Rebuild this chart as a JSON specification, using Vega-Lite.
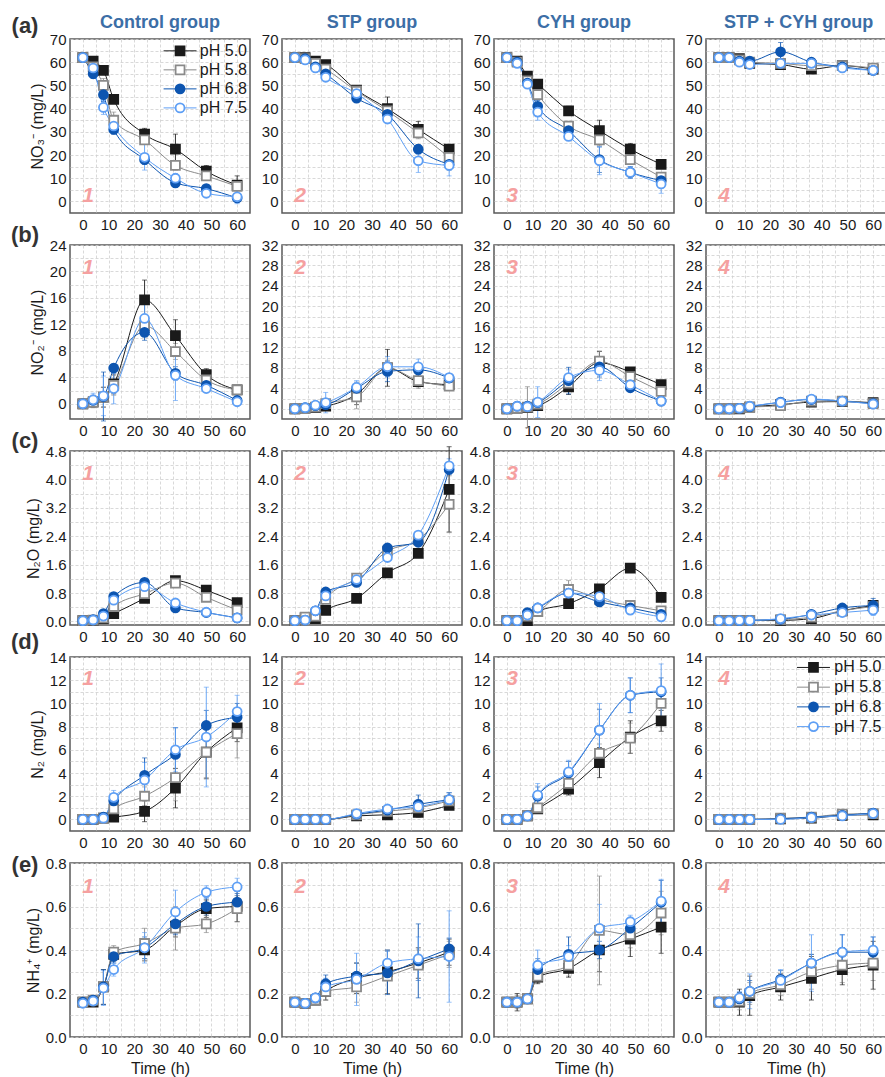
{
"$schema":"https://vega.github.io/schema/vega-lite/v6.json",
"background":"white",
"padding":{"left":10,"top":13,"right":0,"bottom":0},
"datasets":{"obs":[
{"m":"a","g":1,"s":"pH 5.0","t":0,"v":62,"e":1},{"m":"a","g":1,"s":"pH 5.0","t":4,"v":60.5,"e":1},{"m":"a","g":1,"s":"pH 5.0","t":8,"v":56.5,"e":1.5},{"m":"a","g":1,"s":"pH 5.0","t":12,"v":44,"e":1.5},{"m":"a","g":1,"s":"pH 5.0","t":24,"v":29,"e":2.5},{"m":"a","g":1,"s":"pH 5.0","t":36,"v":22.5,"e":6.5},{"m":"a","g":1,"s":"pH 5.0","t":48,"v":13,"e":2.5},{"m":"a","g":1,"s":"pH 5.0","t":60,"v":7,"e":4},
{"m":"a","g":1,"s":"pH 5.8","t":0,"v":62,"e":1},{"m":"a","g":1,"s":"pH 5.8","t":4,"v":58,"e":2},{"m":"a","g":1,"s":"pH 5.8","t":8,"v":50,"e":3},{"m":"a","g":1,"s":"pH 5.8","t":12,"v":35,"e":3.5},{"m":"a","g":1,"s":"pH 5.8","t":24,"v":26.5,"e":2},{"m":"a","g":1,"s":"pH 5.8","t":36,"v":15.5,"e":2},{"m":"a","g":1,"s":"pH 5.8","t":48,"v":11,"e":2},{"m":"a","g":1,"s":"pH 5.8","t":60,"v":6.5,"e":2},
{"m":"a","g":1,"s":"pH 6.8","t":0,"v":62,"e":1},{"m":"a","g":1,"s":"pH 6.8","t":4,"v":55,"e":2},{"m":"a","g":1,"s":"pH 6.8","t":8,"v":46,"e":3},{"m":"a","g":1,"s":"pH 6.8","t":12,"v":31,"e":2},{"m":"a","g":1,"s":"pH 6.8","t":24,"v":18,"e":2},{"m":"a","g":1,"s":"pH 6.8","t":36,"v":8,"e":2},{"m":"a","g":1,"s":"pH 6.8","t":48,"v":5.5,"e":1.5},{"m":"a","g":1,"s":"pH 6.8","t":60,"v":1.5,"e":1.5},
{"m":"a","g":1,"s":"pH 7.5","t":0,"v":62,"e":1},{"m":"a","g":1,"s":"pH 7.5","t":4,"v":57.5,"e":2},{"m":"a","g":1,"s":"pH 7.5","t":8,"v":40.5,"e":3},{"m":"a","g":1,"s":"pH 7.5","t":12,"v":32.5,"e":2},{"m":"a","g":1,"s":"pH 7.5","t":24,"v":19,"e":5.5},{"m":"a","g":1,"s":"pH 7.5","t":36,"v":10,"e":2},{"m":"a","g":1,"s":"pH 7.5","t":48,"v":3.5,"e":1.5},{"m":"a","g":1,"s":"pH 7.5","t":60,"v":2,"e":3},
{"m":"a","g":2,"s":"pH 5.0","t":0,"v":62,"e":1},{"m":"a","g":2,"s":"pH 5.0","t":4,"v":62,"e":1},{"m":"a","g":2,"s":"pH 5.0","t":8,"v":60.5,"e":1},{"m":"a","g":2,"s":"pH 5.0","t":12,"v":59,"e":1},{"m":"a","g":2,"s":"pH 5.0","t":24,"v":48,"e":1.5},{"m":"a","g":2,"s":"pH 5.0","t":36,"v":40,"e":5},{"m":"a","g":2,"s":"pH 5.0","t":48,"v":31,"e":3.5},{"m":"a","g":2,"s":"pH 5.0","t":60,"v":22.5,"e":2},
{"m":"a","g":2,"s":"pH 5.8","t":0,"v":62,"e":1},{"m":"a","g":2,"s":"pH 5.8","t":4,"v":61.5,"e":1},{"m":"a","g":2,"s":"pH 5.8","t":8,"v":59.5,"e":1},{"m":"a","g":2,"s":"pH 5.8","t":12,"v":57,"e":1.5},{"m":"a","g":2,"s":"pH 5.8","t":24,"v":47.5,"e":1.5},{"m":"a","g":2,"s":"pH 5.8","t":36,"v":39,"e":2},{"m":"a","g":2,"s":"pH 5.8","t":48,"v":29.5,"e":2.5},{"m":"a","g":2,"s":"pH 5.8","t":60,"v":19,"e":2},
{"m":"a","g":2,"s":"pH 6.8","t":0,"v":62,"e":1},{"m":"a","g":2,"s":"pH 6.8","t":4,"v":61.5,"e":1},{"m":"a","g":2,"s":"pH 6.8","t":8,"v":58,"e":1},{"m":"a","g":2,"s":"pH 6.8","t":12,"v":55,"e":1.5},{"m":"a","g":2,"s":"pH 6.8","t":24,"v":44.5,"e":1},{"m":"a","g":2,"s":"pH 6.8","t":36,"v":37.5,"e":1.5},{"m":"a","g":2,"s":"pH 6.8","t":48,"v":22.5,"e":2},{"m":"a","g":2,"s":"pH 6.8","t":60,"v":16,"e":2.5},
{"m":"a","g":2,"s":"pH 7.5","t":0,"v":62,"e":1},{"m":"a","g":2,"s":"pH 7.5","t":4,"v":61,"e":1},{"m":"a","g":2,"s":"pH 7.5","t":8,"v":57.5,"e":1.5},{"m":"a","g":2,"s":"pH 7.5","t":12,"v":53.5,"e":1.5},{"m":"a","g":2,"s":"pH 7.5","t":24,"v":46.5,"e":1.5},{"m":"a","g":2,"s":"pH 7.5","t":36,"v":35.5,"e":1.5},{"m":"a","g":2,"s":"pH 7.5","t":48,"v":17.5,"e":5},{"m":"a","g":2,"s":"pH 7.5","t":60,"v":15.5,"e":4.5},
{"m":"a","g":3,"s":"pH 5.0","t":0,"v":62,"e":1},{"m":"a","g":3,"s":"pH 5.0","t":4,"v":60.5,"e":1.5},{"m":"a","g":3,"s":"pH 5.0","t":8,"v":54,"e":1.5},{"m":"a","g":3,"s":"pH 5.0","t":12,"v":50.5,"e":1},{"m":"a","g":3,"s":"pH 5.0","t":24,"v":39,"e":2},{"m":"a","g":3,"s":"pH 5.0","t":36,"v":30.5,"e":4.5},{"m":"a","g":3,"s":"pH 5.0","t":48,"v":22.5,"e":2.5},{"m":"a","g":3,"s":"pH 5.0","t":60,"v":16,"e":1},
{"m":"a","g":3,"s":"pH 5.8","t":0,"v":62,"e":1},{"m":"a","g":3,"s":"pH 5.8","t":4,"v":60,"e":1},{"m":"a","g":3,"s":"pH 5.8","t":8,"v":52,"e":2},{"m":"a","g":3,"s":"pH 5.8","t":12,"v":46,"e":2},{"m":"a","g":3,"s":"pH 5.8","t":24,"v":32.5,"e":2},{"m":"a","g":3,"s":"pH 5.8","t":36,"v":26.5,"e":2.5},{"m":"a","g":3,"s":"pH 5.8","t":48,"v":18,"e":1.5},{"m":"a","g":3,"s":"pH 5.8","t":60,"v":10.5,"e":1.5},
{"m":"a","g":3,"s":"pH 6.8","t":0,"v":62,"e":1},{"m":"a","g":3,"s":"pH 6.8","t":4,"v":60,"e":1},{"m":"a","g":3,"s":"pH 6.8","t":8,"v":51,"e":2},{"m":"a","g":3,"s":"pH 6.8","t":12,"v":41,"e":2.5},{"m":"a","g":3,"s":"pH 6.8","t":24,"v":30.5,"e":2},{"m":"a","g":3,"s":"pH 6.8","t":36,"v":18,"e":5.5},{"m":"a","g":3,"s":"pH 6.8","t":48,"v":12.5,"e":2.5},{"m":"a","g":3,"s":"pH 6.8","t":60,"v":9,"e":2},
{"m":"a","g":3,"s":"pH 7.5","t":0,"v":62,"e":1},{"m":"a","g":3,"s":"pH 7.5","t":4,"v":59.5,"e":1},{"m":"a","g":3,"s":"pH 7.5","t":8,"v":50.5,"e":1.5},{"m":"a","g":3,"s":"pH 7.5","t":12,"v":38.5,"e":3.5},{"m":"a","g":3,"s":"pH 7.5","t":24,"v":28,"e":1.5},{"m":"a","g":3,"s":"pH 7.5","t":36,"v":17.5,"e":6},{"m":"a","g":3,"s":"pH 7.5","t":48,"v":12.5,"e":2.5},{"m":"a","g":3,"s":"pH 7.5","t":60,"v":7.5,"e":4},
{"m":"a","g":4,"s":"pH 5.0","t":0,"v":62,"e":1},{"m":"a","g":4,"s":"pH 5.0","t":4,"v":62,"e":1},{"m":"a","g":4,"s":"pH 5.0","t":8,"v":61.5,"e":1},{"m":"a","g":4,"s":"pH 5.0","t":12,"v":59.5,"e":1},{"m":"a","g":4,"s":"pH 5.0","t":24,"v":59,"e":1},{"m":"a","g":4,"s":"pH 5.0","t":36,"v":57,"e":1},{"m":"a","g":4,"s":"pH 5.0","t":48,"v":58.5,"e":1},{"m":"a","g":4,"s":"pH 5.0","t":60,"v":57,"e":1.5},
{"m":"a","g":4,"s":"pH 5.8","t":0,"v":62,"e":1},{"m":"a","g":4,"s":"pH 5.8","t":4,"v":62,"e":1},{"m":"a","g":4,"s":"pH 5.8","t":8,"v":61,"e":1},{"m":"a","g":4,"s":"pH 5.8","t":12,"v":60,"e":1},{"m":"a","g":4,"s":"pH 5.8","t":24,"v":59.5,"e":1},{"m":"a","g":4,"s":"pH 5.8","t":36,"v":58.5,"e":1},{"m":"a","g":4,"s":"pH 5.8","t":48,"v":58.5,"e":1},{"m":"a","g":4,"s":"pH 5.8","t":60,"v":57.5,"e":1.5},
{"m":"a","g":4,"s":"pH 6.8","t":0,"v":62,"e":1},{"m":"a","g":4,"s":"pH 6.8","t":4,"v":62,"e":1},{"m":"a","g":4,"s":"pH 6.8","t":8,"v":60.5,"e":1},{"m":"a","g":4,"s":"pH 6.8","t":12,"v":60.5,"e":1},{"m":"a","g":4,"s":"pH 6.8","t":24,"v":64.5,"e":4},{"m":"a","g":4,"s":"pH 6.8","t":36,"v":60,"e":1},{"m":"a","g":4,"s":"pH 6.8","t":48,"v":58,"e":1},{"m":"a","g":4,"s":"pH 6.8","t":60,"v":56.5,"e":2},
{"m":"a","g":4,"s":"pH 7.5","t":0,"v":62,"e":1},{"m":"a","g":4,"s":"pH 7.5","t":4,"v":62,"e":1},{"m":"a","g":4,"s":"pH 7.5","t":8,"v":60,"e":1},{"m":"a","g":4,"s":"pH 7.5","t":12,"v":59,"e":1},{"m":"a","g":4,"s":"pH 7.5","t":24,"v":59.5,"e":1},{"m":"a","g":4,"s":"pH 7.5","t":36,"v":59.5,"e":1},{"m":"a","g":4,"s":"pH 7.5","t":48,"v":57.5,"e":1},{"m":"a","g":4,"s":"pH 7.5","t":60,"v":56.5,"e":2},
{"m":"b","g":1,"s":"pH 5.0","t":0,"v":0,"e":0.3},{"m":"b","g":1,"s":"pH 5.0","t":4,"v":0.3,"e":0.8},{"m":"b","g":1,"s":"pH 5.0","t":8,"v":1,"e":1.5},{"m":"b","g":1,"s":"pH 5.0","t":12,"v":3,"e":1.5},{"m":"b","g":1,"s":"pH 5.0","t":24,"v":15.7,"e":3},{"m":"b","g":1,"s":"pH 5.0","t":36,"v":10.3,"e":2.4},{"m":"b","g":1,"s":"pH 5.0","t":48,"v":4.4,"e":0.9},{"m":"b","g":1,"s":"pH 5.0","t":60,"v":2.1,"e":0.6},
{"m":"b","g":1,"s":"pH 5.8","t":0,"v":0,"e":0.3},{"m":"b","g":1,"s":"pH 5.8","t":4,"v":0.2,"e":0.8},{"m":"b","g":1,"s":"pH 5.8","t":8,"v":1,"e":1.5},{"m":"b","g":1,"s":"pH 5.8","t":12,"v":2.8,"e":1.5},{"m":"b","g":1,"s":"pH 5.8","t":24,"v":11.8,"e":1.5},{"m":"b","g":1,"s":"pH 5.8","t":36,"v":7.9,"e":1.2},{"m":"b","g":1,"s":"pH 5.8","t":48,"v":3.6,"e":0.8},{"m":"b","g":1,"s":"pH 5.8","t":60,"v":2.1,"e":0.6},
{"m":"b","g":1,"s":"pH 6.8","t":0,"v":0,"e":0.3},{"m":"b","g":1,"s":"pH 6.8","t":4,"v":0.5,"e":0.8},{"m":"b","g":1,"s":"pH 6.8","t":8,"v":1.1,"e":3.7},{"m":"b","g":1,"s":"pH 6.8","t":12,"v":5.4,"e":0.6},{"m":"b","g":1,"s":"pH 6.8","t":24,"v":10.8,"e":1.2},{"m":"b","g":1,"s":"pH 6.8","t":36,"v":4.6,"e":1},{"m":"b","g":1,"s":"pH 6.8","t":48,"v":2.8,"e":0.6},{"m":"b","g":1,"s":"pH 6.8","t":60,"v":0.5,"e":0.5},
{"m":"b","g":1,"s":"pH 7.5","t":0,"v":0,"e":0.3},{"m":"b","g":1,"s":"pH 7.5","t":4,"v":0.6,"e":1},{"m":"b","g":1,"s":"pH 7.5","t":8,"v":1.2,"e":3},{"m":"b","g":1,"s":"pH 7.5","t":12,"v":2.3,"e":2.3},{"m":"b","g":1,"s":"pH 7.5","t":24,"v":12.9,"e":2.5},{"m":"b","g":1,"s":"pH 7.5","t":36,"v":4.3,"e":3.8},{"m":"b","g":1,"s":"pH 7.5","t":48,"v":2.3,"e":0.6},{"m":"b","g":1,"s":"pH 7.5","t":60,"v":0.3,"e":0.5},
{"m":"b","g":2,"s":"pH 5.0","t":0,"v":0,"e":0.2},{"m":"b","g":2,"s":"pH 5.0","t":4,"v":0.1,"e":0.3},{"m":"b","g":2,"s":"pH 5.0","t":8,"v":0.2,"e":0.4},{"m":"b","g":2,"s":"pH 5.0","t":12,"v":0.5,"e":0.6},{"m":"b","g":2,"s":"pH 5.0","t":24,"v":2.8,"e":2},{"m":"b","g":2,"s":"pH 5.0","t":36,"v":8,"e":3.6},{"m":"b","g":2,"s":"pH 5.0","t":48,"v":5.3,"e":1},{"m":"b","g":2,"s":"pH 5.0","t":60,"v":4.7,"e":0.6},
{"m":"b","g":2,"s":"pH 5.8","t":0,"v":0,"e":0.2},{"m":"b","g":2,"s":"pH 5.8","t":4,"v":0.1,"e":0.3},{"m":"b","g":2,"s":"pH 5.8","t":8,"v":0.3,"e":0.5},{"m":"b","g":2,"s":"pH 5.8","t":12,"v":1,"e":1},{"m":"b","g":2,"s":"pH 5.8","t":24,"v":2.3,"e":2.3},{"m":"b","g":2,"s":"pH 5.8","t":36,"v":8,"e":1.5},{"m":"b","g":2,"s":"pH 5.8","t":48,"v":5.5,"e":1.5},{"m":"b","g":2,"s":"pH 5.8","t":60,"v":4.4,"e":0.6},
{"m":"b","g":2,"s":"pH 6.8","t":0,"v":0,"e":0.2},{"m":"b","g":2,"s":"pH 6.8","t":4,"v":0.2,"e":0.3},{"m":"b","g":2,"s":"pH 6.8","t":8,"v":0.6,"e":0.5},{"m":"b","g":2,"s":"pH 6.8","t":12,"v":0.8,"e":1},{"m":"b","g":2,"s":"pH 6.8","t":24,"v":4,"e":1.2},{"m":"b","g":2,"s":"pH 6.8","t":36,"v":7.3,"e":2},{"m":"b","g":2,"s":"pH 6.8","t":48,"v":7.6,"e":1.2},{"m":"b","g":2,"s":"pH 6.8","t":60,"v":6,"e":0.6},
{"m":"b","g":2,"s":"pH 7.5","t":0,"v":0,"e":0.2},{"m":"b","g":2,"s":"pH 7.5","t":4,"v":0.2,"e":0.3},{"m":"b","g":2,"s":"pH 7.5","t":8,"v":0.7,"e":0.5},{"m":"b","g":2,"s":"pH 7.5","t":12,"v":1.2,"e":2},{"m":"b","g":2,"s":"pH 7.5","t":24,"v":4.2,"e":1.3},{"m":"b","g":2,"s":"pH 7.5","t":36,"v":8.2,"e":2},{"m":"b","g":2,"s":"pH 7.5","t":48,"v":8.2,"e":1.5},{"m":"b","g":2,"s":"pH 7.5","t":60,"v":6.1,"e":0.6},
{"m":"b","g":3,"s":"pH 5.0","t":0,"v":0,"e":0.2},{"m":"b","g":3,"s":"pH 5.0","t":4,"v":0.1,"e":0.3},{"m":"b","g":3,"s":"pH 5.0","t":8,"v":0.2,"e":0.5},{"m":"b","g":3,"s":"pH 5.0","t":12,"v":0.6,"e":0.5},{"m":"b","g":3,"s":"pH 5.0","t":24,"v":4.3,"e":1.5},{"m":"b","g":3,"s":"pH 5.0","t":36,"v":9,"e":2.2},{"m":"b","g":3,"s":"pH 5.0","t":48,"v":7.2,"e":0.6},{"m":"b","g":3,"s":"pH 5.0","t":60,"v":4.7,"e":0.5},
{"m":"b","g":3,"s":"pH 5.8","t":0,"v":0,"e":0.2},{"m":"b","g":3,"s":"pH 5.8","t":4,"v":0.1,"e":0.3},{"m":"b","g":3,"s":"pH 5.8","t":8,"v":0.3,"e":4},{"m":"b","g":3,"s":"pH 5.8","t":12,"v":0.9,"e":0.8},{"m":"b","g":3,"s":"pH 5.8","t":24,"v":5,"e":1.5},{"m":"b","g":3,"s":"pH 5.8","t":36,"v":9.3,"e":2},{"m":"b","g":3,"s":"pH 5.8","t":48,"v":6.3,"e":0.8},{"m":"b","g":3,"s":"pH 5.8","t":60,"v":3.4,"e":0.6},
{"m":"b","g":3,"s":"pH 6.8","t":0,"v":0,"e":0.2},{"m":"b","g":3,"s":"pH 6.8","t":4,"v":0.5,"e":0.5},{"m":"b","g":3,"s":"pH 6.8","t":8,"v":0.5,"e":0.5},{"m":"b","g":3,"s":"pH 6.8","t":12,"v":1.2,"e":0.8},{"m":"b","g":3,"s":"pH 6.8","t":24,"v":5.5,"e":2.6},{"m":"b","g":3,"s":"pH 6.8","t":36,"v":8.2,"e":2},{"m":"b","g":3,"s":"pH 6.8","t":48,"v":4.1,"e":0.6},{"m":"b","g":3,"s":"pH 6.8","t":60,"v":1.5,"e":0.5},
{"m":"b","g":3,"s":"pH 7.5","t":0,"v":0,"e":0.2},{"m":"b","g":3,"s":"pH 7.5","t":4,"v":0.5,"e":0.5},{"m":"b","g":3,"s":"pH 7.5","t":8,"v":0.4,"e":0.5},{"m":"b","g":3,"s":"pH 7.5","t":12,"v":1.3,"e":3},{"m":"b","g":3,"s":"pH 7.5","t":24,"v":6.1,"e":1.5},{"m":"b","g":3,"s":"pH 7.5","t":36,"v":7.5,"e":2},{"m":"b","g":3,"s":"pH 7.5","t":48,"v":4.7,"e":0.6},{"m":"b","g":3,"s":"pH 7.5","t":60,"v":1.5,"e":0.5},
{"m":"b","g":4,"s":"pH 5.0","t":0,"v":0,"e":0.1},{"m":"b","g":4,"s":"pH 5.0","t":4,"v":0,"e":0.1},{"m":"b","g":4,"s":"pH 5.0","t":8,"v":0,"e":0.2},{"m":"b","g":4,"s":"pH 5.0","t":12,"v":0.3,"e":0.3},{"m":"b","g":4,"s":"pH 5.0","t":24,"v":0.8,"e":0.5},{"m":"b","g":4,"s":"pH 5.0","t":36,"v":1.3,"e":0.5},{"m":"b","g":4,"s":"pH 5.0","t":48,"v":1.4,"e":0.4},{"m":"b","g":4,"s":"pH 5.0","t":60,"v":1.2,"e":0.4},
{"m":"b","g":4,"s":"pH 5.8","t":0,"v":0,"e":0.1},{"m":"b","g":4,"s":"pH 5.8","t":4,"v":0,"e":0.1},{"m":"b","g":4,"s":"pH 5.8","t":8,"v":0.1,"e":0.2},{"m":"b","g":4,"s":"pH 5.8","t":12,"v":0.3,"e":0.3},{"m":"b","g":4,"s":"pH 5.8","t":24,"v":0.6,"e":0.5},{"m":"b","g":4,"s":"pH 5.8","t":36,"v":1.5,"e":0.5},{"m":"b","g":4,"s":"pH 5.8","t":48,"v":1.5,"e":0.4},{"m":"b","g":4,"s":"pH 5.8","t":60,"v":1,"e":0.4},
{"m":"b","g":4,"s":"pH 6.8","t":0,"v":0,"e":0.1},{"m":"b","g":4,"s":"pH 6.8","t":4,"v":0,"e":0.1},{"m":"b","g":4,"s":"pH 6.8","t":8,"v":0.1,"e":0.2},{"m":"b","g":4,"s":"pH 6.8","t":12,"v":0.4,"e":0.3},{"m":"b","g":4,"s":"pH 6.8","t":24,"v":1.3,"e":0.5},{"m":"b","g":4,"s":"pH 6.8","t":36,"v":1.8,"e":0.5},{"m":"b","g":4,"s":"pH 6.8","t":48,"v":1.5,"e":0.4},{"m":"b","g":4,"s":"pH 6.8","t":60,"v":1,"e":0.4},
{"m":"b","g":4,"s":"pH 7.5","t":0,"v":0,"e":0.1},{"m":"b","g":4,"s":"pH 7.5","t":4,"v":0,"e":0.1},{"m":"b","g":4,"s":"pH 7.5","t":8,"v":0.1,"e":0.2},{"m":"b","g":4,"s":"pH 7.5","t":12,"v":0.5,"e":0.3},{"m":"b","g":4,"s":"pH 7.5","t":24,"v":1.2,"e":0.5},{"m":"b","g":4,"s":"pH 7.5","t":36,"v":1.9,"e":0.5},{"m":"b","g":4,"s":"pH 7.5","t":48,"v":1.5,"e":0.4},{"m":"b","g":4,"s":"pH 7.5","t":60,"v":0.9,"e":0.4},
{"m":"c","g":1,"s":"pH 5.0","t":0,"v":0.02,"e":0.01},{"m":"c","g":1,"s":"pH 5.0","t":4,"v":0.03,"e":0.02},{"m":"c","g":1,"s":"pH 5.0","t":8,"v":0.08,"e":0.05},{"m":"c","g":1,"s":"pH 5.0","t":12,"v":0.22,"e":0.05},{"m":"c","g":1,"s":"pH 5.0","t":24,"v":0.65,"e":0.08},{"m":"c","g":1,"s":"pH 5.0","t":36,"v":1.15,"e":0.08},{"m":"c","g":1,"s":"pH 5.0","t":48,"v":0.88,"e":0.06},{"m":"c","g":1,"s":"pH 5.0","t":60,"v":0.53,"e":0.05},
{"m":"c","g":1,"s":"pH 5.8","t":0,"v":0.02,"e":0.01},{"m":"c","g":1,"s":"pH 5.8","t":4,"v":0.04,"e":0.02},{"m":"c","g":1,"s":"pH 5.8","t":8,"v":0.1,"e":0.05},{"m":"c","g":1,"s":"pH 5.8","t":12,"v":0.42,"e":0.08},{"m":"c","g":1,"s":"pH 5.8","t":24,"v":0.78,"e":0.1},{"m":"c","g":1,"s":"pH 5.8","t":36,"v":1.08,"e":0.08},{"m":"c","g":1,"s":"pH 5.8","t":48,"v":0.68,"e":0.1},{"m":"c","g":1,"s":"pH 5.8","t":60,"v":0.32,"e":0.1},
{"m":"c","g":1,"s":"pH 6.8","t":0,"v":0.02,"e":0.01},{"m":"c","g":1,"s":"pH 6.8","t":4,"v":0.05,"e":0.02},{"m":"c","g":1,"s":"pH 6.8","t":8,"v":0.22,"e":0.05},{"m":"c","g":1,"s":"pH 6.8","t":12,"v":0.7,"e":0.08},{"m":"c","g":1,"s":"pH 6.8","t":24,"v":1.1,"e":0.08},{"m":"c","g":1,"s":"pH 6.8","t":36,"v":0.38,"e":0.05},{"m":"c","g":1,"s":"pH 6.8","t":48,"v":0.25,"e":0.05},{"m":"c","g":1,"s":"pH 6.8","t":60,"v":0.1,"e":0.05},
{"m":"c","g":1,"s":"pH 7.5","t":0,"v":0.02,"e":0.01},{"m":"c","g":1,"s":"pH 7.5","t":4,"v":0.04,"e":0.02},{"m":"c","g":1,"s":"pH 7.5","t":8,"v":0.15,"e":0.05},{"m":"c","g":1,"s":"pH 7.5","t":12,"v":0.6,"e":0.1},{"m":"c","g":1,"s":"pH 7.5","t":24,"v":0.98,"e":0.1},{"m":"c","g":1,"s":"pH 7.5","t":36,"v":0.52,"e":0.05},{"m":"c","g":1,"s":"pH 7.5","t":48,"v":0.26,"e":0.05},{"m":"c","g":1,"s":"pH 7.5","t":60,"v":0.1,"e":0.05},
{"m":"c","g":2,"s":"pH 5.0","t":0,"v":0.02,"e":0.01},{"m":"c","g":2,"s":"pH 5.0","t":4,"v":0.1,"e":0.03},{"m":"c","g":2,"s":"pH 5.0","t":8,"v":0.08,"e":0.05},{"m":"c","g":2,"s":"pH 5.0","t":12,"v":0.31,"e":0.05},{"m":"c","g":2,"s":"pH 5.0","t":24,"v":0.65,"e":0.12},{"m":"c","g":2,"s":"pH 5.0","t":36,"v":1.37,"e":0.06},{"m":"c","g":2,"s":"pH 5.0","t":48,"v":1.92,"e":0.06},{"m":"c","g":2,"s":"pH 5.0","t":60,"v":3.72,"e":1.2},
{"m":"c","g":2,"s":"pH 5.8","t":0,"v":0.02,"e":0.01},{"m":"c","g":2,"s":"pH 5.8","t":4,"v":0.12,"e":0.03},{"m":"c","g":2,"s":"pH 5.8","t":8,"v":0.15,"e":0.05},{"m":"c","g":2,"s":"pH 5.8","t":12,"v":0.62,"e":0.1},{"m":"c","g":2,"s":"pH 5.8","t":24,"v":1.22,"e":0.1},{"m":"c","g":2,"s":"pH 5.8","t":36,"v":1.98,"e":0.1},{"m":"c","g":2,"s":"pH 5.8","t":48,"v":2.3,"e":0.1},{"m":"c","g":2,"s":"pH 5.8","t":60,"v":3.3,"e":0.8},
{"m":"c","g":2,"s":"pH 6.8","t":0,"v":0.02,"e":0.01},{"m":"c","g":2,"s":"pH 6.8","t":4,"v":0.04,"e":0.02},{"m":"c","g":2,"s":"pH 6.8","t":8,"v":0.3,"e":0.05},{"m":"c","g":2,"s":"pH 6.8","t":12,"v":0.83,"e":0.08},{"m":"c","g":2,"s":"pH 6.8","t":24,"v":1.1,"e":0.1},{"m":"c","g":2,"s":"pH 6.8","t":36,"v":2.07,"e":0.1},{"m":"c","g":2,"s":"pH 6.8","t":48,"v":2.23,"e":0.1},{"m":"c","g":2,"s":"pH 6.8","t":60,"v":4.28,"e":0.15},
{"m":"c","g":2,"s":"pH 7.5","t":0,"v":0.02,"e":0.01},{"m":"c","g":2,"s":"pH 7.5","t":4,"v":0.04,"e":0.02},{"m":"c","g":2,"s":"pH 7.5","t":8,"v":0.3,"e":0.05},{"m":"c","g":2,"s":"pH 7.5","t":12,"v":0.72,"e":0.1},{"m":"c","g":2,"s":"pH 7.5","t":24,"v":1.18,"e":0.1},{"m":"c","g":2,"s":"pH 7.5","t":36,"v":1.8,"e":0.1},{"m":"c","g":2,"s":"pH 7.5","t":48,"v":2.43,"e":0.1},{"m":"c","g":2,"s":"pH 7.5","t":60,"v":4.38,"e":0.2},
{"m":"c","g":3,"s":"pH 5.0","t":0,"v":0.02,"e":0.01},{"m":"c","g":3,"s":"pH 5.0","t":4,"v":0.02,"e":0.01},{"m":"c","g":3,"s":"pH 5.0","t":8,"v":0.02,"e":0.02},{"m":"c","g":3,"s":"pH 5.0","t":12,"v":0.28,"e":0.04},{"m":"c","g":3,"s":"pH 5.0","t":24,"v":0.5,"e":0.05},{"m":"c","g":3,"s":"pH 5.0","t":36,"v":0.92,"e":0.05},{"m":"c","g":3,"s":"pH 5.0","t":48,"v":1.5,"e":0.05},{"m":"c","g":3,"s":"pH 5.0","t":60,"v":0.68,"e":0.05},
{"m":"c","g":3,"s":"pH 5.8","t":0,"v":0.02,"e":0.01},{"m":"c","g":3,"s":"pH 5.8","t":4,"v":0.02,"e":0.01},{"m":"c","g":3,"s":"pH 5.8","t":8,"v":0.15,"e":0.03},{"m":"c","g":3,"s":"pH 5.8","t":12,"v":0.28,"e":0.05},{"m":"c","g":3,"s":"pH 5.8","t":24,"v":0.9,"e":0.25},{"m":"c","g":3,"s":"pH 5.8","t":36,"v":0.62,"e":0.05},{"m":"c","g":3,"s":"pH 5.8","t":48,"v":0.45,"e":0.05},{"m":"c","g":3,"s":"pH 5.8","t":60,"v":0.3,"e":0.05},
{"m":"c","g":3,"s":"pH 6.8","t":0,"v":0.02,"e":0.01},{"m":"c","g":3,"s":"pH 6.8","t":4,"v":0.02,"e":0.01},{"m":"c","g":3,"s":"pH 6.8","t":8,"v":0.25,"e":0.05},{"m":"c","g":3,"s":"pH 6.8","t":12,"v":0.38,"e":0.05},{"m":"c","g":3,"s":"pH 6.8","t":24,"v":0.8,"e":0.1},{"m":"c","g":3,"s":"pH 6.8","t":36,"v":0.55,"e":0.05},{"m":"c","g":3,"s":"pH 6.8","t":48,"v":0.38,"e":0.05},{"m":"c","g":3,"s":"pH 6.8","t":60,"v":0.2,"e":0.05},
{"m":"c","g":3,"s":"pH 7.5","t":0,"v":0.02,"e":0.01},{"m":"c","g":3,"s":"pH 7.5","t":4,"v":0.02,"e":0.01},{"m":"c","g":3,"s":"pH 7.5","t":8,"v":0.18,"e":0.05},{"m":"c","g":3,"s":"pH 7.5","t":12,"v":0.38,"e":0.05},{"m":"c","g":3,"s":"pH 7.5","t":24,"v":0.8,"e":0.1},{"m":"c","g":3,"s":"pH 7.5","t":36,"v":0.7,"e":0.1},{"m":"c","g":3,"s":"pH 7.5","t":48,"v":0.32,"e":0.1},{"m":"c","g":3,"s":"pH 7.5","t":60,"v":0.13,"e":0.05},
{"m":"c","g":4,"s":"pH 5.0","t":0,"v":0.02,"e":0.01},{"m":"c","g":4,"s":"pH 5.0","t":4,"v":0.02,"e":0.01},{"m":"c","g":4,"s":"pH 5.0","t":8,"v":0.02,"e":0.01},{"m":"c","g":4,"s":"pH 5.0","t":12,"v":0.03,"e":0.01},{"m":"c","g":4,"s":"pH 5.0","t":24,"v":0.03,"e":0.02},{"m":"c","g":4,"s":"pH 5.0","t":36,"v":0.08,"e":0.03},{"m":"c","g":4,"s":"pH 5.0","t":48,"v":0.3,"e":0.05},{"m":"c","g":4,"s":"pH 5.0","t":60,"v":0.45,"e":0.1},
{"m":"c","g":4,"s":"pH 5.8","t":0,"v":0.02,"e":0.01},{"m":"c","g":4,"s":"pH 5.8","t":4,"v":0.02,"e":0.01},{"m":"c","g":4,"s":"pH 5.8","t":8,"v":0.02,"e":0.01},{"m":"c","g":4,"s":"pH 5.8","t":12,"v":0.03,"e":0.01},{"m":"c","g":4,"s":"pH 5.8","t":24,"v":0.05,"e":0.02},{"m":"c","g":4,"s":"pH 5.8","t":36,"v":0.12,"e":0.03},{"m":"c","g":4,"s":"pH 5.8","t":48,"v":0.3,"e":0.05},{"m":"c","g":4,"s":"pH 5.8","t":60,"v":0.42,"e":0.1},
{"m":"c","g":4,"s":"pH 6.8","t":0,"v":0.02,"e":0.01},{"m":"c","g":4,"s":"pH 6.8","t":4,"v":0.02,"e":0.01},{"m":"c","g":4,"s":"pH 6.8","t":8,"v":0.02,"e":0.01},{"m":"c","g":4,"s":"pH 6.8","t":12,"v":0.03,"e":0.01},{"m":"c","g":4,"s":"pH 6.8","t":24,"v":0.06,"e":0.02},{"m":"c","g":4,"s":"pH 6.8","t":36,"v":0.2,"e":0.05},{"m":"c","g":4,"s":"pH 6.8","t":48,"v":0.38,"e":0.05},{"m":"c","g":4,"s":"pH 6.8","t":60,"v":0.45,"e":0.2},
{"m":"c","g":4,"s":"pH 7.5","t":0,"v":0.02,"e":0.01},{"m":"c","g":4,"s":"pH 7.5","t":4,"v":0.02,"e":0.01},{"m":"c","g":4,"s":"pH 7.5","t":8,"v":0.03,"e":0.01},{"m":"c","g":4,"s":"pH 7.5","t":12,"v":0.03,"e":0.01},{"m":"c","g":4,"s":"pH 7.5","t":24,"v":0.08,"e":0.03},{"m":"c","g":4,"s":"pH 7.5","t":36,"v":0.18,"e":0.12},{"m":"c","g":4,"s":"pH 7.5","t":48,"v":0.25,"e":0.05},{"m":"c","g":4,"s":"pH 7.5","t":60,"v":0.32,"e":0.15},
{"m":"d","g":1,"s":"pH 5.0","t":0,"v":0,"e":0.05},{"m":"d","g":1,"s":"pH 5.0","t":4,"v":0,"e":0.05},{"m":"d","g":1,"s":"pH 5.0","t":8,"v":0.1,"e":0.1},{"m":"d","g":1,"s":"pH 5.0","t":12,"v":0.2,"e":0.3},{"m":"d","g":1,"s":"pH 5.0","t":24,"v":0.7,"e":0.9},{"m":"d","g":1,"s":"pH 5.0","t":36,"v":2.7,"e":1.7},{"m":"d","g":1,"s":"pH 5.0","t":48,"v":5.8,"e":2.3},{"m":"d","g":1,"s":"pH 5.0","t":60,"v":7.9,"e":1.2},
{"m":"d","g":1,"s":"pH 5.8","t":0,"v":0,"e":0.05},{"m":"d","g":1,"s":"pH 5.8","t":4,"v":0,"e":0.05},{"m":"d","g":1,"s":"pH 5.8","t":8,"v":0.1,"e":0.1},{"m":"d","g":1,"s":"pH 5.8","t":12,"v":0.9,"e":0.5},{"m":"d","g":1,"s":"pH 5.8","t":24,"v":2,"e":0.8},{"m":"d","g":1,"s":"pH 5.8","t":36,"v":3.6,"e":2},{"m":"d","g":1,"s":"pH 5.8","t":48,"v":5.8,"e":2.2},{"m":"d","g":1,"s":"pH 5.8","t":60,"v":7.4,"e":2.1},
{"m":"d","g":1,"s":"pH 6.8","t":0,"v":0,"e":0.05},{"m":"d","g":1,"s":"pH 6.8","t":4,"v":0,"e":0.05},{"m":"d","g":1,"s":"pH 6.8","t":8,"v":0.2,"e":0.2},{"m":"d","g":1,"s":"pH 6.8","t":12,"v":1.6,"e":0.5},{"m":"d","g":1,"s":"pH 6.8","t":24,"v":3.8,"e":1.5},{"m":"d","g":1,"s":"pH 6.8","t":36,"v":5.6,"e":2.3},{"m":"d","g":1,"s":"pH 6.8","t":48,"v":8.1,"e":1.3},{"m":"d","g":1,"s":"pH 6.8","t":60,"v":8.8,"e":1.2},
{"m":"d","g":1,"s":"pH 7.5","t":0,"v":0,"e":0.05},{"m":"d","g":1,"s":"pH 7.5","t":4,"v":0,"e":0.05},{"m":"d","g":1,"s":"pH 7.5","t":8,"v":0.1,"e":0.2},{"m":"d","g":1,"s":"pH 7.5","t":12,"v":1.9,"e":0.6},{"m":"d","g":1,"s":"pH 7.5","t":24,"v":3.4,"e":1.5},{"m":"d","g":1,"s":"pH 7.5","t":36,"v":6,"e":1.9},{"m":"d","g":1,"s":"pH 7.5","t":48,"v":7.1,"e":4.3},{"m":"d","g":1,"s":"pH 7.5","t":60,"v":9.3,"e":1.4},
{"m":"d","g":2,"s":"pH 5.0","t":0,"v":0,"e":0.02},{"m":"d","g":2,"s":"pH 5.0","t":4,"v":0,"e":0.02},{"m":"d","g":2,"s":"pH 5.0","t":8,"v":0,"e":0.02},{"m":"d","g":2,"s":"pH 5.0","t":12,"v":0,"e":0.02},{"m":"d","g":2,"s":"pH 5.0","t":24,"v":0.3,"e":0.2},{"m":"d","g":2,"s":"pH 5.0","t":36,"v":0.4,"e":0.2},{"m":"d","g":2,"s":"pH 5.0","t":48,"v":0.6,"e":0.4},{"m":"d","g":2,"s":"pH 5.0","t":60,"v":1.2,"e":0.3},
{"m":"d","g":2,"s":"pH 5.8","t":0,"v":0,"e":0.02},{"m":"d","g":2,"s":"pH 5.8","t":4,"v":0,"e":0.02},{"m":"d","g":2,"s":"pH 5.8","t":8,"v":0,"e":0.02},{"m":"d","g":2,"s":"pH 5.8","t":12,"v":0,"e":0.02},{"m":"d","g":2,"s":"pH 5.8","t":24,"v":0.4,"e":0.3},{"m":"d","g":2,"s":"pH 5.8","t":36,"v":0.7,"e":0.3},{"m":"d","g":2,"s":"pH 5.8","t":48,"v":1,"e":0.5},{"m":"d","g":2,"s":"pH 5.8","t":60,"v":1.6,"e":0.7},
{"m":"d","g":2,"s":"pH 6.8","t":0,"v":0,"e":0.02},{"m":"d","g":2,"s":"pH 6.8","t":4,"v":0,"e":0.02},{"m":"d","g":2,"s":"pH 6.8","t":8,"v":0,"e":0.02},{"m":"d","g":2,"s":"pH 6.8","t":12,"v":0,"e":0.02},{"m":"d","g":2,"s":"pH 6.8","t":24,"v":0.45,"e":0.3},{"m":"d","g":2,"s":"pH 6.8","t":36,"v":0.8,"e":0.3},{"m":"d","g":2,"s":"pH 6.8","t":48,"v":1.3,"e":0.8},{"m":"d","g":2,"s":"pH 6.8","t":60,"v":1.7,"e":0.6},
{"m":"d","g":2,"s":"pH 7.5","t":0,"v":0,"e":0.02},{"m":"d","g":2,"s":"pH 7.5","t":4,"v":0,"e":0.02},{"m":"d","g":2,"s":"pH 7.5","t":8,"v":0,"e":0.02},{"m":"d","g":2,"s":"pH 7.5","t":12,"v":0,"e":0.02},{"m":"d","g":2,"s":"pH 7.5","t":24,"v":0.5,"e":0.3},{"m":"d","g":2,"s":"pH 7.5","t":36,"v":0.9,"e":0.3},{"m":"d","g":2,"s":"pH 7.5","t":48,"v":1.1,"e":0.6},{"m":"d","g":2,"s":"pH 7.5","t":60,"v":1.7,"e":0.6},
{"m":"d","g":3,"s":"pH 5.0","t":0,"v":0,"e":0.05},{"m":"d","g":3,"s":"pH 5.0","t":4,"v":0,"e":0.05},{"m":"d","g":3,"s":"pH 5.0","t":8,"v":0.3,"e":0.1},{"m":"d","g":3,"s":"pH 5.0","t":12,"v":0.9,"e":0.3},{"m":"d","g":3,"s":"pH 5.0","t":24,"v":2.6,"e":0.5},{"m":"d","g":3,"s":"pH 5.0","t":36,"v":4.9,"e":1.3},{"m":"d","g":3,"s":"pH 5.0","t":48,"v":7.1,"e":1.4},{"m":"d","g":3,"s":"pH 5.0","t":60,"v":8.5,"e":0.9},
{"m":"d","g":3,"s":"pH 5.8","t":0,"v":0,"e":0.05},{"m":"d","g":3,"s":"pH 5.8","t":4,"v":0,"e":0.05},{"m":"d","g":3,"s":"pH 5.8","t":8,"v":0.3,"e":0.1},{"m":"d","g":3,"s":"pH 5.8","t":12,"v":1,"e":0.3},{"m":"d","g":3,"s":"pH 5.8","t":24,"v":3.1,"e":0.8},{"m":"d","g":3,"s":"pH 5.8","t":36,"v":5.7,"e":0.8},{"m":"d","g":3,"s":"pH 5.8","t":48,"v":7,"e":1.3},{"m":"d","g":3,"s":"pH 5.8","t":60,"v":10,"e":1.3},
{"m":"d","g":3,"s":"pH 6.8","t":0,"v":0,"e":0.05},{"m":"d","g":3,"s":"pH 6.8","t":4,"v":0,"e":0.05},{"m":"d","g":3,"s":"pH 6.8","t":8,"v":0.3,"e":0.1},{"m":"d","g":3,"s":"pH 6.8","t":12,"v":2,"e":0.8},{"m":"d","g":3,"s":"pH 6.8","t":24,"v":4,"e":1},{"m":"d","g":3,"s":"pH 6.8","t":36,"v":7.7,"e":1.8},{"m":"d","g":3,"s":"pH 6.8","t":48,"v":10.7,"e":1.5},{"m":"d","g":3,"s":"pH 6.8","t":60,"v":11,"e":1.2},
{"m":"d","g":3,"s":"pH 7.5","t":0,"v":0,"e":0.05},{"m":"d","g":3,"s":"pH 7.5","t":4,"v":0,"e":0.05},{"m":"d","g":3,"s":"pH 7.5","t":8,"v":0.3,"e":0.1},{"m":"d","g":3,"s":"pH 7.5","t":12,"v":2.1,"e":1},{"m":"d","g":3,"s":"pH 7.5","t":24,"v":4.1,"e":1},{"m":"d","g":3,"s":"pH 7.5","t":36,"v":7.7,"e":2.3},{"m":"d","g":3,"s":"pH 7.5","t":48,"v":10.7,"e":1.5},{"m":"d","g":3,"s":"pH 7.5","t":60,"v":11.1,"e":2.3},
{"m":"d","g":4,"s":"pH 5.0","t":0,"v":0,"e":0.02},{"m":"d","g":4,"s":"pH 5.0","t":4,"v":0,"e":0.02},{"m":"d","g":4,"s":"pH 5.0","t":8,"v":0,"e":0.02},{"m":"d","g":4,"s":"pH 5.0","t":12,"v":0,"e":0.02},{"m":"d","g":4,"s":"pH 5.0","t":24,"v":0.05,"e":0.2},{"m":"d","g":4,"s":"pH 5.0","t":36,"v":0.1,"e":0.2},{"m":"d","g":4,"s":"pH 5.0","t":48,"v":0.35,"e":0.2},{"m":"d","g":4,"s":"pH 5.0","t":60,"v":0.4,"e":0.3},
{"m":"d","g":4,"s":"pH 5.8","t":0,"v":0,"e":0.02},{"m":"d","g":4,"s":"pH 5.8","t":4,"v":0,"e":0.02},{"m":"d","g":4,"s":"pH 5.8","t":8,"v":0,"e":0.02},{"m":"d","g":4,"s":"pH 5.8","t":12,"v":0,"e":0.02},{"m":"d","g":4,"s":"pH 5.8","t":24,"v":0.1,"e":0.2},{"m":"d","g":4,"s":"pH 5.8","t":36,"v":0.2,"e":0.2},{"m":"d","g":4,"s":"pH 5.8","t":48,"v":0.45,"e":0.2},{"m":"d","g":4,"s":"pH 5.8","t":60,"v":0.5,"e":0.3},
{"m":"d","g":4,"s":"pH 6.8","t":0,"v":0,"e":0.02},{"m":"d","g":4,"s":"pH 6.8","t":4,"v":0,"e":0.02},{"m":"d","g":4,"s":"pH 6.8","t":8,"v":0,"e":0.02},{"m":"d","g":4,"s":"pH 6.8","t":12,"v":0,"e":0.02},{"m":"d","g":4,"s":"pH 6.8","t":24,"v":0.05,"e":0.2},{"m":"d","g":4,"s":"pH 6.8","t":36,"v":0.2,"e":0.2},{"m":"d","g":4,"s":"pH 6.8","t":48,"v":0.35,"e":0.2},{"m":"d","g":4,"s":"pH 6.8","t":60,"v":0.55,"e":0.3},
{"m":"d","g":4,"s":"pH 7.5","t":0,"v":0,"e":0.02},{"m":"d","g":4,"s":"pH 7.5","t":4,"v":0,"e":0.02},{"m":"d","g":4,"s":"pH 7.5","t":8,"v":0,"e":0.02},{"m":"d","g":4,"s":"pH 7.5","t":12,"v":0,"e":0.02},{"m":"d","g":4,"s":"pH 7.5","t":24,"v":0,"e":0.2},{"m":"d","g":4,"s":"pH 7.5","t":36,"v":0.15,"e":0.2},{"m":"d","g":4,"s":"pH 7.5","t":48,"v":0.3,"e":0.2},{"m":"d","g":4,"s":"pH 7.5","t":60,"v":0.5,"e":0.3},
{"m":"e","g":1,"s":"pH 5.0","t":0,"v":0.16,"e":0.01},{"m":"e","g":1,"s":"pH 5.0","t":4,"v":0.16,"e":0.02},{"m":"e","g":1,"s":"pH 5.0","t":8,"v":0.23,"e":0.08},{"m":"e","g":1,"s":"pH 5.0","t":12,"v":0.38,"e":0.03},{"m":"e","g":1,"s":"pH 5.0","t":24,"v":0.4,"e":0.05},{"m":"e","g":1,"s":"pH 5.0","t":36,"v":0.51,"e":0.05},{"m":"e","g":1,"s":"pH 5.0","t":48,"v":0.59,"e":0.04},{"m":"e","g":1,"s":"pH 5.0","t":60,"v":0.6,"e":0.07},
{"m":"e","g":1,"s":"pH 5.8","t":0,"v":0.16,"e":0.01},{"m":"e","g":1,"s":"pH 5.8","t":4,"v":0.17,"e":0.02},{"m":"e","g":1,"s":"pH 5.8","t":8,"v":0.23,"e":0.08},{"m":"e","g":1,"s":"pH 5.8","t":12,"v":0.39,"e":0.03},{"m":"e","g":1,"s":"pH 5.8","t":24,"v":0.43,"e":0.07},{"m":"e","g":1,"s":"pH 5.8","t":36,"v":0.5,"e":0.1},{"m":"e","g":1,"s":"pH 5.8","t":48,"v":0.52,"e":0.04},{"m":"e","g":1,"s":"pH 5.8","t":60,"v":0.59,"e":0.06},
{"m":"e","g":1,"s":"pH 6.8","t":0,"v":0.16,"e":0.01},{"m":"e","g":1,"s":"pH 6.8","t":4,"v":0.17,"e":0.02},{"m":"e","g":1,"s":"pH 6.8","t":8,"v":0.23,"e":0.08},{"m":"e","g":1,"s":"pH 6.8","t":12,"v":0.37,"e":0.03},{"m":"e","g":1,"s":"pH 6.8","t":24,"v":0.41,"e":0.05},{"m":"e","g":1,"s":"pH 6.8","t":36,"v":0.52,"e":0.05},{"m":"e","g":1,"s":"pH 6.8","t":48,"v":0.6,"e":0.04},{"m":"e","g":1,"s":"pH 6.8","t":60,"v":0.62,"e":0.04},
{"m":"e","g":1,"s":"pH 7.5","t":0,"v":0.155,"e":0.01},{"m":"e","g":1,"s":"pH 7.5","t":4,"v":0.165,"e":0.02},{"m":"e","g":1,"s":"pH 7.5","t":8,"v":0.225,"e":0.08},{"m":"e","g":1,"s":"pH 7.5","t":12,"v":0.31,"e":0.03},{"m":"e","g":1,"s":"pH 7.5","t":24,"v":0.41,"e":0.07},{"m":"e","g":1,"s":"pH 7.5","t":36,"v":0.575,"e":0.1},{"m":"e","g":1,"s":"pH 7.5","t":48,"v":0.665,"e":0.03},{"m":"e","g":1,"s":"pH 7.5","t":60,"v":0.69,"e":0.04},
{"m":"e","g":2,"s":"pH 5.0","t":0,"v":0.16,"e":0.01},{"m":"e","g":2,"s":"pH 5.0","t":4,"v":0.155,"e":0.01},{"m":"e","g":2,"s":"pH 5.0","t":8,"v":0.17,"e":0.02},{"m":"e","g":2,"s":"pH 5.0","t":12,"v":0.21,"e":0.04},{"m":"e","g":2,"s":"pH 5.0","t":24,"v":0.27,"e":0.07},{"m":"e","g":2,"s":"pH 5.0","t":36,"v":0.3,"e":0.1},{"m":"e","g":2,"s":"pH 5.0","t":48,"v":0.34,"e":0.07},{"m":"e","g":2,"s":"pH 5.0","t":60,"v":0.39,"e":0.06},
{"m":"e","g":2,"s":"pH 5.8","t":0,"v":0.16,"e":0.01},{"m":"e","g":2,"s":"pH 5.8","t":4,"v":0.155,"e":0.01},{"m":"e","g":2,"s":"pH 5.8","t":8,"v":0.17,"e":0.02},{"m":"e","g":2,"s":"pH 5.8","t":12,"v":0.21,"e":0.04},{"m":"e","g":2,"s":"pH 5.8","t":24,"v":0.23,"e":0.07},{"m":"e","g":2,"s":"pH 5.8","t":36,"v":0.28,"e":0.08},{"m":"e","g":2,"s":"pH 5.8","t":48,"v":0.33,"e":0.07},{"m":"e","g":2,"s":"pH 5.8","t":60,"v":0.38,"e":0.06},
{"m":"e","g":2,"s":"pH 6.8","t":0,"v":0.16,"e":0.01},{"m":"e","g":2,"s":"pH 6.8","t":4,"v":0.155,"e":0.01},{"m":"e","g":2,"s":"pH 6.8","t":8,"v":0.18,"e":0.02},{"m":"e","g":2,"s":"pH 6.8","t":12,"v":0.245,"e":0.04},{"m":"e","g":2,"s":"pH 6.8","t":24,"v":0.28,"e":0.06},{"m":"e","g":2,"s":"pH 6.8","t":36,"v":0.295,"e":0.1},{"m":"e","g":2,"s":"pH 6.8","t":48,"v":0.35,"e":0.17},{"m":"e","g":2,"s":"pH 6.8","t":60,"v":0.405,"e":0.05},
{"m":"e","g":2,"s":"pH 7.5","t":0,"v":0.16,"e":0.01},{"m":"e","g":2,"s":"pH 7.5","t":4,"v":0.155,"e":0.01},{"m":"e","g":2,"s":"pH 7.5","t":8,"v":0.18,"e":0.02},{"m":"e","g":2,"s":"pH 7.5","t":12,"v":0.23,"e":0.04},{"m":"e","g":2,"s":"pH 7.5","t":24,"v":0.265,"e":0.12},{"m":"e","g":2,"s":"pH 7.5","t":36,"v":0.34,"e":0.06},{"m":"e","g":2,"s":"pH 7.5","t":48,"v":0.36,"e":0.1},{"m":"e","g":2,"s":"pH 7.5","t":60,"v":0.37,"e":0.21},
{"m":"e","g":3,"s":"pH 5.0","t":0,"v":0.16,"e":0.01},{"m":"e","g":3,"s":"pH 5.0","t":4,"v":0.16,"e":0.04},{"m":"e","g":3,"s":"pH 5.0","t":8,"v":0.175,"e":0.01},{"m":"e","g":3,"s":"pH 5.0","t":12,"v":0.275,"e":0.03},{"m":"e","g":3,"s":"pH 5.0","t":24,"v":0.315,"e":0.04},{"m":"e","g":3,"s":"pH 5.0","t":36,"v":0.4,"e":0.1},{"m":"e","g":3,"s":"pH 5.0","t":48,"v":0.45,"e":0.08},{"m":"e","g":3,"s":"pH 5.0","t":60,"v":0.505,"e":0.12},
{"m":"e","g":3,"s":"pH 5.8","t":0,"v":0.16,"e":0.01},{"m":"e","g":3,"s":"pH 5.8","t":4,"v":0.16,"e":0.03},{"m":"e","g":3,"s":"pH 5.8","t":8,"v":0.175,"e":0.01},{"m":"e","g":3,"s":"pH 5.8","t":12,"v":0.28,"e":0.03},{"m":"e","g":3,"s":"pH 5.8","t":24,"v":0.33,"e":0.05},{"m":"e","g":3,"s":"pH 5.8","t":36,"v":0.49,"e":0.25},{"m":"e","g":3,"s":"pH 5.8","t":48,"v":0.47,"e":0.06},{"m":"e","g":3,"s":"pH 5.8","t":60,"v":0.57,"e":0.1},
{"m":"e","g":3,"s":"pH 6.8","t":0,"v":0.16,"e":0.01},{"m":"e","g":3,"s":"pH 6.8","t":4,"v":0.16,"e":0.02},{"m":"e","g":3,"s":"pH 6.8","t":8,"v":0.175,"e":0.01},{"m":"e","g":3,"s":"pH 6.8","t":12,"v":0.31,"e":0.05},{"m":"e","g":3,"s":"pH 6.8","t":24,"v":0.38,"e":0.08},{"m":"e","g":3,"s":"pH 6.8","t":36,"v":0.4,"e":0.04},{"m":"e","g":3,"s":"pH 6.8","t":48,"v":0.5,"e":0.05},{"m":"e","g":3,"s":"pH 6.8","t":60,"v":0.62,"e":0.1},
{"m":"e","g":3,"s":"pH 7.5","t":0,"v":0.16,"e":0.01},{"m":"e","g":3,"s":"pH 7.5","t":4,"v":0.16,"e":0.02},{"m":"e","g":3,"s":"pH 7.5","t":8,"v":0.175,"e":0.01},{"m":"e","g":3,"s":"pH 7.5","t":12,"v":0.33,"e":0.07},{"m":"e","g":3,"s":"pH 7.5","t":24,"v":0.37,"e":0.05},{"m":"e","g":3,"s":"pH 7.5","t":36,"v":0.5,"e":0.11},{"m":"e","g":3,"s":"pH 7.5","t":48,"v":0.53,"e":0.03},{"m":"e","g":3,"s":"pH 7.5","t":60,"v":0.625,"e":0.1},
{"m":"e","g":4,"s":"pH 5.0","t":0,"v":0.16,"e":0.01},{"m":"e","g":4,"s":"pH 5.0","t":4,"v":0.16,"e":0.01},{"m":"e","g":4,"s":"pH 5.0","t":8,"v":0.16,"e":0.06},{"m":"e","g":4,"s":"pH 5.0","t":12,"v":0.19,"e":0.09},{"m":"e","g":4,"s":"pH 5.0","t":24,"v":0.23,"e":0.06},{"m":"e","g":4,"s":"pH 5.0","t":36,"v":0.27,"e":0.1},{"m":"e","g":4,"s":"pH 5.0","t":48,"v":0.31,"e":0.07},{"m":"e","g":4,"s":"pH 5.0","t":60,"v":0.33,"e":0.11},
{"m":"e","g":4,"s":"pH 5.8","t":0,"v":0.16,"e":0.01},{"m":"e","g":4,"s":"pH 5.8","t":4,"v":0.16,"e":0.01},{"m":"e","g":4,"s":"pH 5.8","t":8,"v":0.165,"e":0.04},{"m":"e","g":4,"s":"pH 5.8","t":12,"v":0.2,"e":0.05},{"m":"e","g":4,"s":"pH 5.8","t":24,"v":0.24,"e":0.05},{"m":"e","g":4,"s":"pH 5.8","t":36,"v":0.3,"e":0.08},{"m":"e","g":4,"s":"pH 5.8","t":48,"v":0.33,"e":0.08},{"m":"e","g":4,"s":"pH 5.8","t":60,"v":0.34,"e":0.08},
{"m":"e","g":4,"s":"pH 6.8","t":0,"v":0.16,"e":0.01},{"m":"e","g":4,"s":"pH 6.8","t":4,"v":0.16,"e":0.01},{"m":"e","g":4,"s":"pH 6.8","t":8,"v":0.175,"e":0.03},{"m":"e","g":4,"s":"pH 6.8","t":12,"v":0.21,"e":0.05},{"m":"e","g":4,"s":"pH 6.8","t":24,"v":0.265,"e":0.04},{"m":"e","g":4,"s":"pH 6.8","t":36,"v":0.34,"e":0.04},{"m":"e","g":4,"s":"pH 6.8","t":48,"v":0.39,"e":0.08},{"m":"e","g":4,"s":"pH 6.8","t":60,"v":0.39,"e":0.07},
{"m":"e","g":4,"s":"pH 7.5","t":0,"v":0.16,"e":0.01},{"m":"e","g":4,"s":"pH 7.5","t":4,"v":0.16,"e":0.01},{"m":"e","g":4,"s":"pH 7.5","t":8,"v":0.18,"e":0.03},{"m":"e","g":4,"s":"pH 7.5","t":12,"v":0.21,"e":0.08},{"m":"e","g":4,"s":"pH 7.5","t":24,"v":0.26,"e":0.05},{"m":"e","g":4,"s":"pH 7.5","t":36,"v":0.34,"e":0.13},{"m":"e","g":4,"s":"pH 7.5","t":48,"v":0.39,"e":0.08},{"m":"e","g":4,"s":"pH 7.5","t":60,"v":0.4,"e":0.06}
]},
"data":{"name":"obs"},
"columns":4,
"spacing":{"row":32,"column":32},
"bounds":"flush",
"concat":[
{"width":180,"height":174,"transform":[{"filter":"datum.m=='a'&&datum.g==1"}],
"encoding":{"x":{"field":"t","type":"quantitative","scale":{"domain":[-5,65],"nice":false,"zero":false},"axis":{"values":[0,5,10,15,20,25,30,35,40,45,50,55,60],"labelExpr":"datum.value%10==0?datum.label:''","title":null}},
"y":{"field":"v","type":"quantitative","scale":{"domain":[-5,70],"nice":false,"zero":false},"axis":{"values":[0,5,10,15,20,25,30,35,40,45,50,55,60,65,70],"labelExpr":"datum.value%10==0?datum.label:''","title":"NO₃⁻ (mg/L)"}}},
"layer":[
{"mark":{"type":"line","interpolate":"monotone","strokeWidth":1},"encoding":{"color":{"field":"s","type":"nominal"}}},
{"mark":{"type":"errorbar","ticks":true,"thickness":0.9},"encoding":{"yError":{"field":"e"},"color":{"field":"s","type":"nominal"}}},
{"mark":{"type":"point","size":80,"strokeWidth":1.8,"opacity":1},"encoding":{"shape":{"field":"s","type":"nominal"},"stroke":{"field":"s","type":"nominal"},"fill":{"field":"s","type":"nominal","scale":{"range":["#1a1a1a","#ffffff","#0d55b0","#ffffff"]}}}},
{"data":{"values":[{"t":31.4,"t2":44.2,"v":64.9,"s":"pH 5.0"},{"t":31.4,"t2":44.2,"v":56.7,"s":"pH 5.8"},{"t":31.4,"t2":44.2,"v":48.5,"s":"pH 6.8"},{"t":31.4,"t2":44.2,"v":40.3,"s":"pH 7.5"}]},"mark":{"type":"rule","strokeWidth":1},"encoding":{"x2":{"field":"t2"},"color":{"field":"s","type":"nominal"}}},
{"data":{"values":[{"t":37.8,"v":64.9,"s":"pH 5.0"},{"t":37.8,"v":56.7,"s":"pH 5.8"},{"t":37.8,"v":48.5,"s":"pH 6.8"},{"t":37.8,"v":40.3,"s":"pH 7.5"}]},"mark":{"type":"point","size":80,"strokeWidth":1.8,"opacity":1},"encoding":{"shape":{"field":"s","type":"nominal"},"stroke":{"field":"s","type":"nominal"},"fill":{"field":"s","type":"nominal","scale":{"range":["#1a1a1a","#ffffff","#0d55b0","#ffffff"]}}}},
{"data":{"values":[{"t":45.5,"v":64.9,"s":"pH 5.0"},{"t":45.5,"v":56.7,"s":"pH 5.8"},{"t":45.5,"v":48.5,"s":"pH 6.8"},{"t":45.5,"v":40.3,"s":"pH 7.5"}]},"mark":{"type":"text","align":"left","baseline":"middle","fontSize":16,"color":"#1a1a1a"},"encoding":{"text":{"field":"s"}}},
{"data":{"values":[{"t":2,"v":2.3,"n":"1"}]},"mark":{"type":"text","fontSize":21,"fontWeight":"bold","fontStyle":"italic","color":"#f5a0a0","align":"center","baseline":"middle"},"encoding":{"text":{"field":"n"}}},
{"data":{"values":[{"t":30,"v":76.9,"n":"Control group"}]},"mark":{"type":"text","fontSize":18,"fontWeight":"bold","color":"#3c6ea6","align":"center","baseline":"middle"},"encoding":{"text":{"field":"n"}}},
{"data":{"values":[{"t":-22.5,"v":75.6,"n":"(a)"}]},"mark":{"type":"text","fontSize":22,"fontWeight":"bold","color":"#333333","align":"center","baseline":"middle"},"encoding":{"text":{"field":"n"}}}
]},
{"width":180,"height":174,"transform":[{"filter":"datum.m=='a'&&datum.g==2"}],
"encoding":{"x":{"field":"t","type":"quantitative","scale":{"domain":[-5,65],"nice":false,"zero":false},"axis":{"values":[0,5,10,15,20,25,30,35,40,45,50,55,60],"labelExpr":"datum.value%10==0?datum.label:''","title":null}},
"y":{"field":"v","type":"quantitative","scale":{"domain":[-5,70],"nice":false,"zero":false},"axis":{"values":[0,5,10,15,20,25,30,35,40,45,50,55,60,65,70],"labelExpr":"datum.value%10==0?datum.label:''","title":null}}},
"layer":[
{"mark":{"type":"line","interpolate":"monotone","strokeWidth":1},"encoding":{"color":{"field":"s","type":"nominal"}}},
{"mark":{"type":"errorbar","ticks":true,"thickness":0.9},"encoding":{"yError":{"field":"e"},"color":{"field":"s","type":"nominal"}}},
{"mark":{"type":"point","size":80,"strokeWidth":1.8,"opacity":1},"encoding":{"shape":{"field":"s","type":"nominal"},"stroke":{"field":"s","type":"nominal"},"fill":{"field":"s","type":"nominal","scale":{"range":["#1a1a1a","#ffffff","#0d55b0","#ffffff"]}}}},
{"data":{"values":[{"t":2,"v":2.3,"n":"2"}]},"mark":{"type":"text","fontSize":21,"fontWeight":"bold","fontStyle":"italic","color":"#f5a0a0","align":"center","baseline":"middle"},"encoding":{"text":{"field":"n"}}},
{"data":{"values":[{"t":30,"v":76.9,"n":"STP group"}]},"mark":{"type":"text","fontSize":18,"fontWeight":"bold","color":"#3c6ea6","align":"center","baseline":"middle"},"encoding":{"text":{"field":"n"}}}
]},
{"width":180,"height":174,"transform":[{"filter":"datum.m=='a'&&datum.g==3"}],
"encoding":{"x":{"field":"t","type":"quantitative","scale":{"domain":[-5,65],"nice":false,"zero":false},"axis":{"values":[0,5,10,15,20,25,30,35,40,45,50,55,60],"labelExpr":"datum.value%10==0?datum.label:''","title":null}},
"y":{"field":"v","type":"quantitative","scale":{"domain":[-5,70],"nice":false,"zero":false},"axis":{"values":[0,5,10,15,20,25,30,35,40,45,50,55,60,65,70],"labelExpr":"datum.value%10==0?datum.label:''","title":null}}},
"layer":[
{"mark":{"type":"line","interpolate":"monotone","strokeWidth":1},"encoding":{"color":{"field":"s","type":"nominal"}}},
{"mark":{"type":"errorbar","ticks":true,"thickness":0.9},"encoding":{"yError":{"field":"e"},"color":{"field":"s","type":"nominal"}}},
{"mark":{"type":"point","size":80,"strokeWidth":1.8,"opacity":1},"encoding":{"shape":{"field":"s","type":"nominal"},"stroke":{"field":"s","type":"nominal"},"fill":{"field":"s","type":"nominal","scale":{"range":["#1a1a1a","#ffffff","#0d55b0","#ffffff"]}}}},
{"data":{"values":[{"t":2,"v":2.3,"n":"3"}]},"mark":{"type":"text","fontSize":21,"fontWeight":"bold","fontStyle":"italic","color":"#f5a0a0","align":"center","baseline":"middle"},"encoding":{"text":{"field":"n"}}},
{"data":{"values":[{"t":30,"v":76.9,"n":"CYH group"}]},"mark":{"type":"text","fontSize":18,"fontWeight":"bold","color":"#3c6ea6","align":"center","baseline":"middle"},"encoding":{"text":{"field":"n"}}}
]},
{"width":180,"height":174,"transform":[{"filter":"datum.m=='a'&&datum.g==4"}],
"encoding":{"x":{"field":"t","type":"quantitative","scale":{"domain":[-5,65],"nice":false,"zero":false},"axis":{"values":[0,5,10,15,20,25,30,35,40,45,50,55,60],"labelExpr":"datum.value%10==0?datum.label:''","title":null}},
"y":{"field":"v","type":"quantitative","scale":{"domain":[-5,70],"nice":false,"zero":false},"axis":{"values":[0,5,10,15,20,25,30,35,40,45,50,55,60,65,70],"labelExpr":"datum.value%10==0?datum.label:''","title":null}}},
"layer":[
{"mark":{"type":"line","interpolate":"monotone","strokeWidth":1},"encoding":{"color":{"field":"s","type":"nominal"}}},
{"mark":{"type":"errorbar","ticks":true,"thickness":0.9},"encoding":{"yError":{"field":"e"},"color":{"field":"s","type":"nominal"}}},
{"mark":{"type":"point","size":80,"strokeWidth":1.8,"opacity":1},"encoding":{"shape":{"field":"s","type":"nominal"},"stroke":{"field":"s","type":"nominal"},"fill":{"field":"s","type":"nominal","scale":{"range":["#1a1a1a","#ffffff","#0d55b0","#ffffff"]}}}},
{"data":{"values":[{"t":2,"v":2.3,"n":"4"}]},"mark":{"type":"text","fontSize":21,"fontWeight":"bold","fontStyle":"italic","color":"#f5a0a0","align":"center","baseline":"middle"},"encoding":{"text":{"field":"n"}}},
{"data":{"values":[{"t":31,"v":76.9,"n":"STP + CYH group"}]},"mark":{"type":"text","fontSize":18,"fontWeight":"bold","color":"#3c6ea6","align":"center","baseline":"middle"},"encoding":{"text":{"field":"n"}}}
]},
{"width":180,"height":174,"transform":[{"filter":"datum.m=='b'&&datum.g==1"}],
"encoding":{"x":{"field":"t","type":"quantitative","scale":{"domain":[-5,65],"nice":false,"zero":false},"axis":{"values":[0,5,10,15,20,25,30,35,40,45,50,55,60],"labelExpr":"datum.value%10==0?datum.label:''","title":null}},
"y":{"field":"v","type":"quantitative","scale":{"domain":[-2.3,24],"nice":false,"zero":false},"axis":{"values":[0,2,4,6,8,10,12,14,16,18,20,22,24],"labelExpr":"datum.value%4==0?datum.label:''","title":"NO₂⁻ (mg/L)"}}},
"layer":[
{"mark":{"type":"line","interpolate":"monotone","strokeWidth":1},"encoding":{"color":{"field":"s","type":"nominal"}}},
{"mark":{"type":"errorbar","ticks":true,"thickness":0.9},"encoding":{"yError":{"field":"e"},"color":{"field":"s","type":"nominal"}}},
{"mark":{"type":"point","size":80,"strokeWidth":1.8,"opacity":1},"encoding":{"shape":{"field":"s","type":"nominal"},"stroke":{"field":"s","type":"nominal"},"fill":{"field":"s","type":"nominal","scale":{"range":["#1a1a1a","#ffffff","#0d55b0","#ffffff"]}}}},
{"data":{"values":[{"t":2,"v":20.5,"n":"1"}]},"mark":{"type":"text","fontSize":21,"fontWeight":"bold","fontStyle":"italic","color":"#f5a0a0","align":"center","baseline":"middle"},"encoding":{"text":{"field":"n"}}},
{"data":{"values":[{"t":-22.5,"v":25.5,"n":"(b)"}]},"mark":{"type":"text","fontSize":22,"fontWeight":"bold","color":"#333333","align":"center","baseline":"middle"},"encoding":{"text":{"field":"n"}}}
]},
{"width":180,"height":174,"transform":[{"filter":"datum.m=='b'&&datum.g==2"}],
"encoding":{"x":{"field":"t","type":"quantitative","scale":{"domain":[-5,65],"nice":false,"zero":false},"axis":{"values":[0,5,10,15,20,25,30,35,40,45,50,55,60],"labelExpr":"datum.value%10==0?datum.label:''","title":null}},
"y":{"field":"v","type":"quantitative","scale":{"domain":[-2,32],"nice":false,"zero":false},"axis":{"values":[0,2,4,6,8,10,12,14,16,18,20,22,24,26,28,30,32],"labelExpr":"datum.value%4==0?datum.label:''","title":null}}},
"layer":[
{"mark":{"type":"line","interpolate":"monotone","strokeWidth":1},"encoding":{"color":{"field":"s","type":"nominal"}}},
{"mark":{"type":"errorbar","ticks":true,"thickness":0.9},"encoding":{"yError":{"field":"e"},"color":{"field":"s","type":"nominal"}}},
{"mark":{"type":"point","size":80,"strokeWidth":1.8,"opacity":1},"encoding":{"shape":{"field":"s","type":"nominal"},"stroke":{"field":"s","type":"nominal"},"fill":{"field":"s","type":"nominal","scale":{"range":["#1a1a1a","#ffffff","#0d55b0","#ffffff"]}}}},
{"data":{"values":[{"t":2,"v":27.5,"n":"2"}]},"mark":{"type":"text","fontSize":21,"fontWeight":"bold","fontStyle":"italic","color":"#f5a0a0","align":"center","baseline":"middle"},"encoding":{"text":{"field":"n"}}}
]},
{"width":180,"height":174,"transform":[{"filter":"datum.m=='b'&&datum.g==3"}],
"encoding":{"x":{"field":"t","type":"quantitative","scale":{"domain":[-5,65],"nice":false,"zero":false},"axis":{"values":[0,5,10,15,20,25,30,35,40,45,50,55,60],"labelExpr":"datum.value%10==0?datum.label:''","title":null}},
"y":{"field":"v","type":"quantitative","scale":{"domain":[-2,32],"nice":false,"zero":false},"axis":{"values":[0,2,4,6,8,10,12,14,16,18,20,22,24,26,28,30,32],"labelExpr":"datum.value%4==0?datum.label:''","title":null}}},
"layer":[
{"mark":{"type":"line","interpolate":"monotone","strokeWidth":1},"encoding":{"color":{"field":"s","type":"nominal"}}},
{"mark":{"type":"errorbar","ticks":true,"thickness":0.9},"encoding":{"yError":{"field":"e"},"color":{"field":"s","type":"nominal"}}},
{"mark":{"type":"point","size":80,"strokeWidth":1.8,"opacity":1},"encoding":{"shape":{"field":"s","type":"nominal"},"stroke":{"field":"s","type":"nominal"},"fill":{"field":"s","type":"nominal","scale":{"range":["#1a1a1a","#ffffff","#0d55b0","#ffffff"]}}}},
{"data":{"values":[{"t":2,"v":27.5,"n":"3"}]},"mark":{"type":"text","fontSize":21,"fontWeight":"bold","fontStyle":"italic","color":"#f5a0a0","align":"center","baseline":"middle"},"encoding":{"text":{"field":"n"}}}
]},
{"width":180,"height":174,"transform":[{"filter":"datum.m=='b'&&datum.g==4"}],
"encoding":{"x":{"field":"t","type":"quantitative","scale":{"domain":[-5,65],"nice":false,"zero":false},"axis":{"values":[0,5,10,15,20,25,30,35,40,45,50,55,60],"labelExpr":"datum.value%10==0?datum.label:''","title":null}},
"y":{"field":"v","type":"quantitative","scale":{"domain":[-2,32],"nice":false,"zero":false},"axis":{"values":[0,2,4,6,8,10,12,14,16,18,20,22,24,26,28,30,32],"labelExpr":"datum.value%4==0?datum.label:''","title":null}}},
"layer":[
{"mark":{"type":"line","interpolate":"monotone","strokeWidth":1},"encoding":{"color":{"field":"s","type":"nominal"}}},
{"mark":{"type":"errorbar","ticks":true,"thickness":0.9},"encoding":{"yError":{"field":"e"},"color":{"field":"s","type":"nominal"}}},
{"mark":{"type":"point","size":80,"strokeWidth":1.8,"opacity":1},"encoding":{"shape":{"field":"s","type":"nominal"},"stroke":{"field":"s","type":"nominal"},"fill":{"field":"s","type":"nominal","scale":{"range":["#1a1a1a","#ffffff","#0d55b0","#ffffff"]}}}},
{"data":{"values":[{"t":2,"v":27.5,"n":"4"}]},"mark":{"type":"text","fontSize":21,"fontWeight":"bold","fontStyle":"italic","color":"#f5a0a0","align":"center","baseline":"middle"},"encoding":{"text":{"field":"n"}}}
]},
{"width":180,"height":174,"transform":[{"filter":"datum.m=='c'&&datum.g==1"}],
"encoding":{"x":{"field":"t","type":"quantitative","scale":{"domain":[-5,65],"nice":false,"zero":false},"axis":{"values":[0,5,10,15,20,25,30,35,40,45,50,55,60],"labelExpr":"datum.value%10==0?datum.label:''","title":null}},
"y":{"field":"v","type":"quantitative","scale":{"domain":[-0.1,4.8],"nice":false,"zero":false},"axis":{"values":[0,0.4,0.8,1.2,1.6,2,2.4,2.8,3.2,3.6,4,4.4,4.8],"format":".1f","labelExpr":"round(datum.value*10)%8==0?datum.label:''","title":"N₂O (mg/L)"}}},
"layer":[
{"mark":{"type":"line","interpolate":"monotone","strokeWidth":1},"encoding":{"color":{"field":"s","type":"nominal"}}},
{"mark":{"type":"errorbar","ticks":true,"thickness":0.9},"encoding":{"yError":{"field":"e"},"color":{"field":"s","type":"nominal"}}},
{"mark":{"type":"point","size":80,"strokeWidth":1.8,"opacity":1},"encoding":{"shape":{"field":"s","type":"nominal"},"stroke":{"field":"s","type":"nominal"},"fill":{"field":"s","type":"nominal","scale":{"range":["#1a1a1a","#ffffff","#0d55b0","#ffffff"]}}}},
{"data":{"values":[{"t":2,"v":4.15,"n":"1"}]},"mark":{"type":"text","fontSize":21,"fontWeight":"bold","fontStyle":"italic","color":"#f5a0a0","align":"center","baseline":"middle"},"encoding":{"text":{"field":"n"}}},
{"data":{"values":[{"t":-22.5,"v":5.08,"n":"(c)"}]},"mark":{"type":"text","fontSize":22,"fontWeight":"bold","color":"#333333","align":"center","baseline":"middle"},"encoding":{"text":{"field":"n"}}}
]},
{"width":180,"height":174,"transform":[{"filter":"datum.m=='c'&&datum.g==2"}],
"encoding":{"x":{"field":"t","type":"quantitative","scale":{"domain":[-5,65],"nice":false,"zero":false},"axis":{"values":[0,5,10,15,20,25,30,35,40,45,50,55,60],"labelExpr":"datum.value%10==0?datum.label:''","title":null}},
"y":{"field":"v","type":"quantitative","scale":{"domain":[-0.1,4.8],"nice":false,"zero":false},"axis":{"values":[0,0.4,0.8,1.2,1.6,2,2.4,2.8,3.2,3.6,4,4.4,4.8],"format":".1f","labelExpr":"round(datum.value*10)%8==0?datum.label:''","title":null}}},
"layer":[
{"mark":{"type":"line","interpolate":"monotone","strokeWidth":1},"encoding":{"color":{"field":"s","type":"nominal"}}},
{"mark":{"type":"errorbar","ticks":true,"thickness":0.9},"encoding":{"yError":{"field":"e"},"color":{"field":"s","type":"nominal"}}},
{"mark":{"type":"point","size":80,"strokeWidth":1.8,"opacity":1},"encoding":{"shape":{"field":"s","type":"nominal"},"stroke":{"field":"s","type":"nominal"},"fill":{"field":"s","type":"nominal","scale":{"range":["#1a1a1a","#ffffff","#0d55b0","#ffffff"]}}}},
{"data":{"values":[{"t":2,"v":4.15,"n":"2"}]},"mark":{"type":"text","fontSize":21,"fontWeight":"bold","fontStyle":"italic","color":"#f5a0a0","align":"center","baseline":"middle"},"encoding":{"text":{"field":"n"}}}
]},
{"width":180,"height":174,"transform":[{"filter":"datum.m=='c'&&datum.g==3"}],
"encoding":{"x":{"field":"t","type":"quantitative","scale":{"domain":[-5,65],"nice":false,"zero":false},"axis":{"values":[0,5,10,15,20,25,30,35,40,45,50,55,60],"labelExpr":"datum.value%10==0?datum.label:''","title":null}},
"y":{"field":"v","type":"quantitative","scale":{"domain":[-0.1,4.8],"nice":false,"zero":false},"axis":{"values":[0,0.4,0.8,1.2,1.6,2,2.4,2.8,3.2,3.6,4,4.4,4.8],"format":".1f","labelExpr":"round(datum.value*10)%8==0?datum.label:''","title":null}}},
"layer":[
{"mark":{"type":"line","interpolate":"monotone","strokeWidth":1},"encoding":{"color":{"field":"s","type":"nominal"}}},
{"mark":{"type":"errorbar","ticks":true,"thickness":0.9},"encoding":{"yError":{"field":"e"},"color":{"field":"s","type":"nominal"}}},
{"mark":{"type":"point","size":80,"strokeWidth":1.8,"opacity":1},"encoding":{"shape":{"field":"s","type":"nominal"},"stroke":{"field":"s","type":"nominal"},"fill":{"field":"s","type":"nominal","scale":{"range":["#1a1a1a","#ffffff","#0d55b0","#ffffff"]}}}},
{"data":{"values":[{"t":2,"v":4.15,"n":"3"}]},"mark":{"type":"text","fontSize":21,"fontWeight":"bold","fontStyle":"italic","color":"#f5a0a0","align":"center","baseline":"middle"},"encoding":{"text":{"field":"n"}}}
]},
{"width":180,"height":174,"transform":[{"filter":"datum.m=='c'&&datum.g==4"}],
"encoding":{"x":{"field":"t","type":"quantitative","scale":{"domain":[-5,65],"nice":false,"zero":false},"axis":{"values":[0,5,10,15,20,25,30,35,40,45,50,55,60],"labelExpr":"datum.value%10==0?datum.label:''","title":null}},
"y":{"field":"v","type":"quantitative","scale":{"domain":[-0.1,4.8],"nice":false,"zero":false},"axis":{"values":[0,0.4,0.8,1.2,1.6,2,2.4,2.8,3.2,3.6,4,4.4,4.8],"format":".1f","labelExpr":"round(datum.value*10)%8==0?datum.label:''","title":null}}},
"layer":[
{"mark":{"type":"line","interpolate":"monotone","strokeWidth":1},"encoding":{"color":{"field":"s","type":"nominal"}}},
{"mark":{"type":"errorbar","ticks":true,"thickness":0.9},"encoding":{"yError":{"field":"e"},"color":{"field":"s","type":"nominal"}}},
{"mark":{"type":"point","size":80,"strokeWidth":1.8,"opacity":1},"encoding":{"shape":{"field":"s","type":"nominal"},"stroke":{"field":"s","type":"nominal"},"fill":{"field":"s","type":"nominal","scale":{"range":["#1a1a1a","#ffffff","#0d55b0","#ffffff"]}}}},
{"data":{"values":[{"t":2,"v":4.15,"n":"4"}]},"mark":{"type":"text","fontSize":21,"fontWeight":"bold","fontStyle":"italic","color":"#f5a0a0","align":"center","baseline":"middle"},"encoding":{"text":{"field":"n"}}}
]},
{"width":180,"height":174,"transform":[{"filter":"datum.m=='d'&&datum.g==1"}],
"encoding":{"x":{"field":"t","type":"quantitative","scale":{"domain":[-5,65],"nice":false,"zero":false},"axis":{"values":[0,5,10,15,20,25,30,35,40,45,50,55,60],"labelExpr":"datum.value%10==0?datum.label:''","title":null}},
"y":{"field":"v","type":"quantitative","scale":{"domain":[-1,14],"nice":false,"zero":false},"axis":{"values":[0,1,2,3,4,5,6,7,8,9,10,11,12,13,14],"labelExpr":"datum.value%2==0?datum.label:''","title":"N₂ (mg/L)"}}},
"layer":[
{"mark":{"type":"line","interpolate":"monotone","strokeWidth":1},"encoding":{"color":{"field":"s","type":"nominal"}}},
{"mark":{"type":"errorbar","ticks":true,"thickness":0.9},"encoding":{"yError":{"field":"e"},"color":{"field":"s","type":"nominal"}}},
{"mark":{"type":"point","size":80,"strokeWidth":1.8,"opacity":1},"encoding":{"shape":{"field":"s","type":"nominal"},"stroke":{"field":"s","type":"nominal"},"fill":{"field":"s","type":"nominal","scale":{"range":["#1a1a1a","#ffffff","#0d55b0","#ffffff"]}}}},
{"data":{"values":[{"t":2,"v":12.1,"n":"1"}]},"mark":{"type":"text","fontSize":21,"fontWeight":"bold","fontStyle":"italic","color":"#f5a0a0","align":"center","baseline":"middle"},"encoding":{"text":{"field":"n"}}},
{"data":{"values":[{"t":-22.5,"v":15.3,"n":"(d)"}]},"mark":{"type":"text","fontSize":22,"fontWeight":"bold","color":"#333333","align":"center","baseline":"middle"},"encoding":{"text":{"field":"n"}}}
]},
{"width":180,"height":174,"transform":[{"filter":"datum.m=='d'&&datum.g==2"}],
"encoding":{"x":{"field":"t","type":"quantitative","scale":{"domain":[-5,65],"nice":false,"zero":false},"axis":{"values":[0,5,10,15,20,25,30,35,40,45,50,55,60],"labelExpr":"datum.value%10==0?datum.label:''","title":null}},
"y":{"field":"v","type":"quantitative","scale":{"domain":[-1,14],"nice":false,"zero":false},"axis":{"values":[0,1,2,3,4,5,6,7,8,9,10,11,12,13,14],"labelExpr":"datum.value%2==0?datum.label:''","title":null}}},
"layer":[
{"mark":{"type":"line","interpolate":"monotone","strokeWidth":1},"encoding":{"color":{"field":"s","type":"nominal"}}},
{"mark":{"type":"errorbar","ticks":true,"thickness":0.9},"encoding":{"yError":{"field":"e"},"color":{"field":"s","type":"nominal"}}},
{"mark":{"type":"point","size":80,"strokeWidth":1.8,"opacity":1},"encoding":{"shape":{"field":"s","type":"nominal"},"stroke":{"field":"s","type":"nominal"},"fill":{"field":"s","type":"nominal","scale":{"range":["#1a1a1a","#ffffff","#0d55b0","#ffffff"]}}}},
{"data":{"values":[{"t":2,"v":12.1,"n":"2"}]},"mark":{"type":"text","fontSize":21,"fontWeight":"bold","fontStyle":"italic","color":"#f5a0a0","align":"center","baseline":"middle"},"encoding":{"text":{"field":"n"}}}
]},
{"width":180,"height":174,"transform":[{"filter":"datum.m=='d'&&datum.g==3"}],
"encoding":{"x":{"field":"t","type":"quantitative","scale":{"domain":[-5,65],"nice":false,"zero":false},"axis":{"values":[0,5,10,15,20,25,30,35,40,45,50,55,60],"labelExpr":"datum.value%10==0?datum.label:''","title":null}},
"y":{"field":"v","type":"quantitative","scale":{"domain":[-1,14],"nice":false,"zero":false},"axis":{"values":[0,1,2,3,4,5,6,7,8,9,10,11,12,13,14],"labelExpr":"datum.value%2==0?datum.label:''","title":null}}},
"layer":[
{"mark":{"type":"line","interpolate":"monotone","strokeWidth":1},"encoding":{"color":{"field":"s","type":"nominal"}}},
{"mark":{"type":"errorbar","ticks":true,"thickness":0.9},"encoding":{"yError":{"field":"e"},"color":{"field":"s","type":"nominal"}}},
{"mark":{"type":"point","size":80,"strokeWidth":1.8,"opacity":1},"encoding":{"shape":{"field":"s","type":"nominal"},"stroke":{"field":"s","type":"nominal"},"fill":{"field":"s","type":"nominal","scale":{"range":["#1a1a1a","#ffffff","#0d55b0","#ffffff"]}}}},
{"data":{"values":[{"t":2,"v":12.1,"n":"3"}]},"mark":{"type":"text","fontSize":21,"fontWeight":"bold","fontStyle":"italic","color":"#f5a0a0","align":"center","baseline":"middle"},"encoding":{"text":{"field":"n"}}}
]},
{"width":180,"height":174,"transform":[{"filter":"datum.m=='d'&&datum.g==4"}],
"encoding":{"x":{"field":"t","type":"quantitative","scale":{"domain":[-5,65],"nice":false,"zero":false},"axis":{"values":[0,5,10,15,20,25,30,35,40,45,50,55,60],"labelExpr":"datum.value%10==0?datum.label:''","title":null}},
"y":{"field":"v","type":"quantitative","scale":{"domain":[-1,14],"nice":false,"zero":false},"axis":{"values":[0,1,2,3,4,5,6,7,8,9,10,11,12,13,14],"labelExpr":"datum.value%2==0?datum.label:''","title":null}}},
"layer":[
{"mark":{"type":"line","interpolate":"monotone","strokeWidth":1},"encoding":{"color":{"field":"s","type":"nominal"}}},
{"mark":{"type":"errorbar","ticks":true,"thickness":0.9},"encoding":{"yError":{"field":"e"},"color":{"field":"s","type":"nominal"}}},
{"mark":{"type":"point","size":80,"strokeWidth":1.8,"opacity":1},"encoding":{"shape":{"field":"s","type":"nominal"},"stroke":{"field":"s","type":"nominal"},"fill":{"field":"s","type":"nominal","scale":{"range":["#1a1a1a","#ffffff","#0d55b0","#ffffff"]}}}},
{"data":{"values":[{"t":30.4,"t2":43.2,"v":13.1,"s":"pH 5.0"},{"t":30.4,"t2":43.2,"v":11.4,"s":"pH 5.8"},{"t":30.4,"t2":43.2,"v":9.7,"s":"pH 6.8"},{"t":30.4,"t2":43.2,"v":8.0,"s":"pH 7.5"}]},"mark":{"type":"rule","strokeWidth":1},"encoding":{"x2":{"field":"t2"},"color":{"field":"s","type":"nominal"}}},
{"data":{"values":[{"t":36.8,"v":13.1,"s":"pH 5.0"},{"t":36.8,"v":11.4,"s":"pH 5.8"},{"t":36.8,"v":9.7,"s":"pH 6.8"},{"t":36.8,"v":8.0,"s":"pH 7.5"}]},"mark":{"type":"point","size":80,"strokeWidth":1.8,"opacity":1},"encoding":{"shape":{"field":"s","type":"nominal"},"stroke":{"field":"s","type":"nominal"},"fill":{"field":"s","type":"nominal","scale":{"range":["#1a1a1a","#ffffff","#0d55b0","#ffffff"]}}}},
{"data":{"values":[{"t":44.9,"v":13.1,"s":"pH 5.0"},{"t":44.9,"v":11.4,"s":"pH 5.8"},{"t":44.9,"v":9.7,"s":"pH 6.8"},{"t":44.9,"v":8.0,"s":"pH 7.5"}]},"mark":{"type":"text","align":"left","baseline":"middle","fontSize":16,"color":"#1a1a1a"},"encoding":{"text":{"field":"s"}}},
{"data":{"values":[{"t":2,"v":12.1,"n":"4"}]},"mark":{"type":"text","fontSize":21,"fontWeight":"bold","fontStyle":"italic","color":"#f5a0a0","align":"center","baseline":"middle"},"encoding":{"text":{"field":"n"}}}
]},
{"width":180,"height":174,"transform":[{"filter":"datum.m=='e'&&datum.g==1"}],
"encoding":{"x":{"field":"t","type":"quantitative","scale":{"domain":[-5,65],"nice":false,"zero":false},"axis":{"values":[0,5,10,15,20,25,30,35,40,45,50,55,60],"labelExpr":"datum.value%10==0?datum.label:''","title":"Time (h)"}},
"y":{"field":"v","type":"quantitative","scale":{"domain":[0,0.8],"nice":false,"zero":false},"axis":{"values":[0,0.1,0.2,0.3,0.4,0.5,0.6,0.7,0.8],"format":".1f","labelExpr":"round(datum.value*10)%2==0?datum.label:''","title":"NH₄⁺ (mg/L)"}}},
"layer":[
{"mark":{"type":"line","interpolate":"monotone","strokeWidth":1},"encoding":{"color":{"field":"s","type":"nominal"}}},
{"mark":{"type":"errorbar","ticks":true,"thickness":0.9},"encoding":{"yError":{"field":"e"},"color":{"field":"s","type":"nominal"}}},
{"mark":{"type":"point","size":80,"strokeWidth":1.8,"opacity":1},"encoding":{"shape":{"field":"s","type":"nominal"},"stroke":{"field":"s","type":"nominal"},"fill":{"field":"s","type":"nominal","scale":{"range":["#1a1a1a","#ffffff","#0d55b0","#ffffff"]}}}},
{"data":{"values":[{"t":2,"v":0.69,"n":"1"}]},"mark":{"type":"text","fontSize":21,"fontWeight":"bold","fontStyle":"italic","color":"#f5a0a0","align":"center","baseline":"middle"},"encoding":{"text":{"field":"n"}}},
{"data":{"values":[{"t":-22.5,"v":0.79,"n":"(e)"}]},"mark":{"type":"text","fontSize":22,"fontWeight":"bold","color":"#333333","align":"center","baseline":"middle"},"encoding":{"text":{"field":"n"}}}
]},
{"width":180,"height":174,"transform":[{"filter":"datum.m=='e'&&datum.g==2"}],
"encoding":{"x":{"field":"t","type":"quantitative","scale":{"domain":[-5,65],"nice":false,"zero":false},"axis":{"values":[0,5,10,15,20,25,30,35,40,45,50,55,60],"labelExpr":"datum.value%10==0?datum.label:''","title":"Time (h)"}},
"y":{"field":"v","type":"quantitative","scale":{"domain":[0,0.8],"nice":false,"zero":false},"axis":{"values":[0,0.1,0.2,0.3,0.4,0.5,0.6,0.7,0.8],"format":".1f","labelExpr":"round(datum.value*10)%2==0?datum.label:''","title":null}}},
"layer":[
{"mark":{"type":"line","interpolate":"monotone","strokeWidth":1},"encoding":{"color":{"field":"s","type":"nominal"}}},
{"mark":{"type":"errorbar","ticks":true,"thickness":0.9},"encoding":{"yError":{"field":"e"},"color":{"field":"s","type":"nominal"}}},
{"mark":{"type":"point","size":80,"strokeWidth":1.8,"opacity":1},"encoding":{"shape":{"field":"s","type":"nominal"},"stroke":{"field":"s","type":"nominal"},"fill":{"field":"s","type":"nominal","scale":{"range":["#1a1a1a","#ffffff","#0d55b0","#ffffff"]}}}},
{"data":{"values":[{"t":2,"v":0.69,"n":"2"}]},"mark":{"type":"text","fontSize":21,"fontWeight":"bold","fontStyle":"italic","color":"#f5a0a0","align":"center","baseline":"middle"},"encoding":{"text":{"field":"n"}}}
]},
{"width":180,"height":174,"transform":[{"filter":"datum.m=='e'&&datum.g==3"}],
"encoding":{"x":{"field":"t","type":"quantitative","scale":{"domain":[-5,65],"nice":false,"zero":false},"axis":{"values":[0,5,10,15,20,25,30,35,40,45,50,55,60],"labelExpr":"datum.value%10==0?datum.label:''","title":"Time (h)"}},
"y":{"field":"v","type":"quantitative","scale":{"domain":[0,0.8],"nice":false,"zero":false},"axis":{"values":[0,0.1,0.2,0.3,0.4,0.5,0.6,0.7,0.8],"format":".1f","labelExpr":"round(datum.value*10)%2==0?datum.label:''","title":null}}},
"layer":[
{"mark":{"type":"line","interpolate":"monotone","strokeWidth":1},"encoding":{"color":{"field":"s","type":"nominal"}}},
{"mark":{"type":"errorbar","ticks":true,"thickness":0.9},"encoding":{"yError":{"field":"e"},"color":{"field":"s","type":"nominal"}}},
{"mark":{"type":"point","size":80,"strokeWidth":1.8,"opacity":1},"encoding":{"shape":{"field":"s","type":"nominal"},"stroke":{"field":"s","type":"nominal"},"fill":{"field":"s","type":"nominal","scale":{"range":["#1a1a1a","#ffffff","#0d55b0","#ffffff"]}}}},
{"data":{"values":[{"t":2,"v":0.69,"n":"3"}]},"mark":{"type":"text","fontSize":21,"fontWeight":"bold","fontStyle":"italic","color":"#f5a0a0","align":"center","baseline":"middle"},"encoding":{"text":{"field":"n"}}}
]},
{"width":180,"height":174,"transform":[{"filter":"datum.m=='e'&&datum.g==4"}],
"encoding":{"x":{"field":"t","type":"quantitative","scale":{"domain":[-5,65],"nice":false,"zero":false},"axis":{"values":[0,5,10,15,20,25,30,35,40,45,50,55,60],"labelExpr":"datum.value%10==0?datum.label:''","title":"Time (h)"}},
"y":{"field":"v","type":"quantitative","scale":{"domain":[0,0.8],"nice":false,"zero":false},"axis":{"values":[0,0.1,0.2,0.3,0.4,0.5,0.6,0.7,0.8],"format":".1f","labelExpr":"round(datum.value*10)%2==0?datum.label:''","title":null}}},
"layer":[
{"mark":{"type":"line","interpolate":"monotone","strokeWidth":1},"encoding":{"color":{"field":"s","type":"nominal"}}},
{"mark":{"type":"errorbar","ticks":true,"thickness":0.9},"encoding":{"yError":{"field":"e"},"color":{"field":"s","type":"nominal"}}},
{"mark":{"type":"point","size":80,"strokeWidth":1.8,"opacity":1},"encoding":{"shape":{"field":"s","type":"nominal"},"stroke":{"field":"s","type":"nominal"},"fill":{"field":"s","type":"nominal","scale":{"range":["#1a1a1a","#ffffff","#0d55b0","#ffffff"]}}}},
{"data":{"values":[{"t":2,"v":0.69,"n":"4"}]},"mark":{"type":"text","fontSize":21,"fontWeight":"bold","fontStyle":"italic","color":"#f5a0a0","align":"center","baseline":"middle"},"encoding":{"text":{"field":"n"}}}
]}
],
"config":{
"font":"Liberation Sans",
"view":{"stroke":"#5a5a5a","strokeWidth":1.5},
"axis":{"labelFont":"Liberation Sans","labelFontSize":15,"labelColor":"#1a1a1a","titleFont":"Liberation Sans","titleFontSize":16,"titleFontWeight":"normal","titleColor":"#1a1a1a","grid":true,"gridColor":"#cfcfcf","gridDash":[3,2],"gridWidth":0.8,"domain":false,"ticks":false,"labelPadding":4,"labelOverlap":false,"labelFlush":false},
"legend":{"disable":true},
"range":{"category":["#1a1a1a","#8a8a8a","#0d55b0","#5e9ff5"],"symbol":["square","square","circle","circle"]}
}
}
